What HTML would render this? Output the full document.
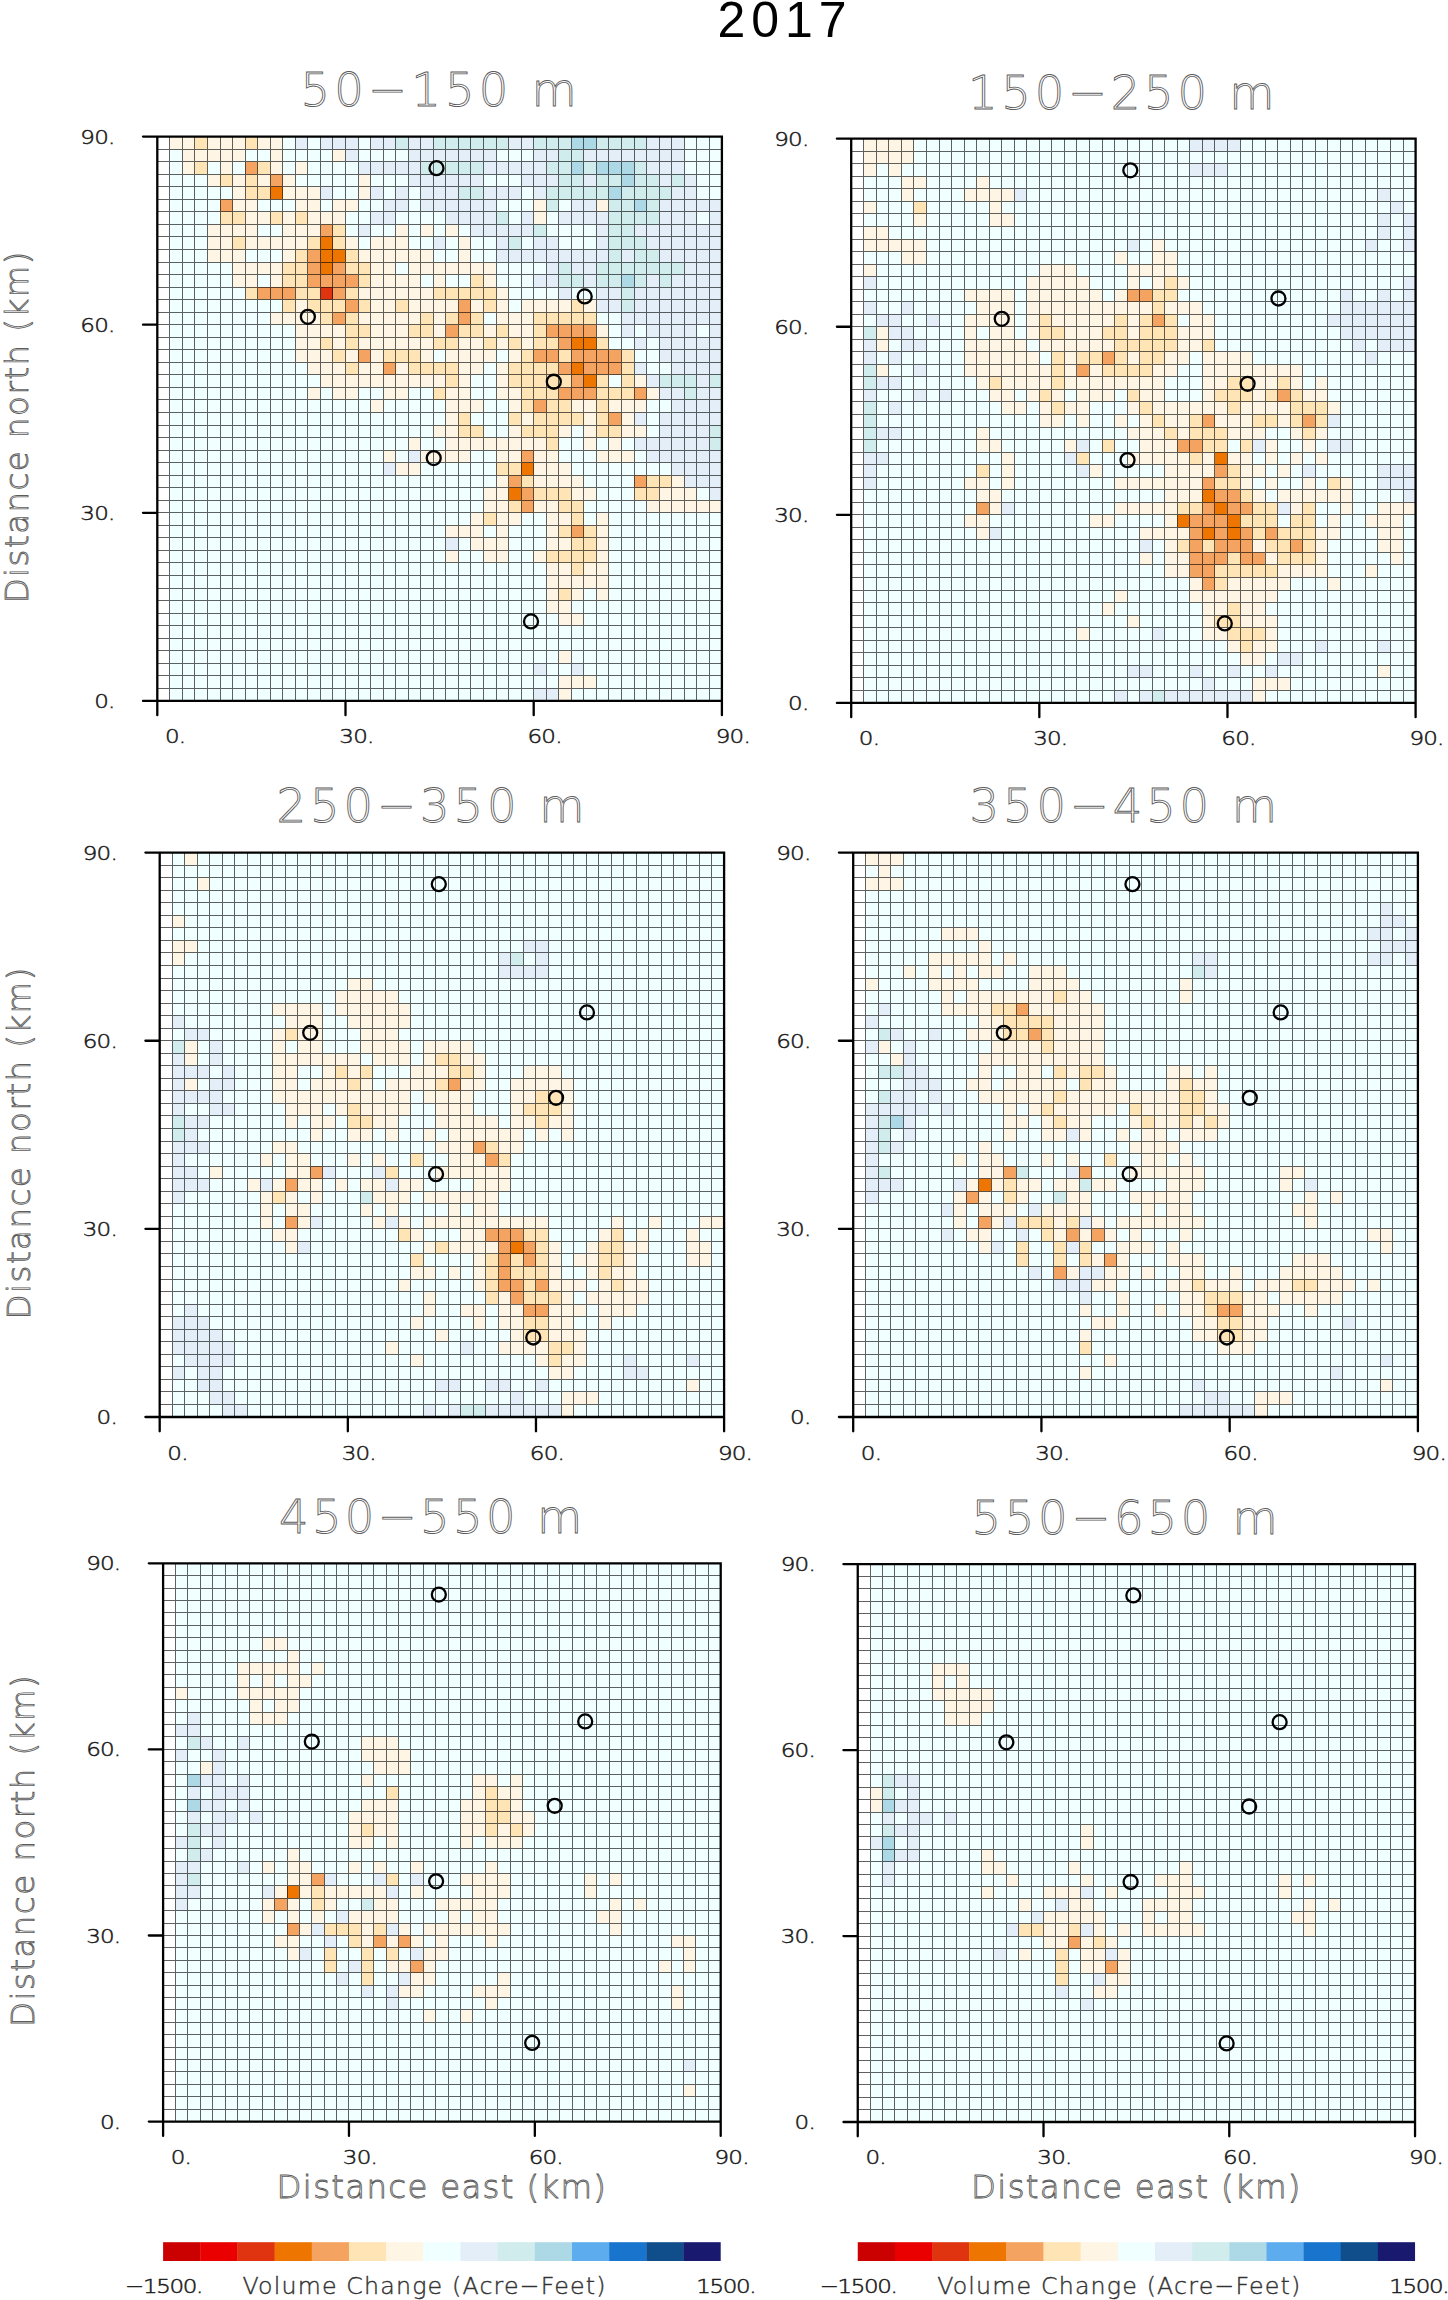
<!DOCTYPE html>
<html lang="en"><head><meta charset="utf-8"><title>2017</title>
<style>
html,body{margin:0;padding:0;background:#fff}
svg{display:block}
text{font-family:"DejaVu Sans","Liberation Sans",sans-serif}
.tk{font-weight:200;font-size:20px;fill:#1a1a1a;stroke:#1a1a1a;stroke-width:0.5px;letter-spacing:-0.7px}
.ti{font-weight:200;font-size:46.5px;fill:#fff;stroke:#5c5c5c;stroke-width:0.9px;letter-spacing:4.2px}
.ax{font-weight:200;font-size:32.4px;fill:#fff;stroke:#5c5c5c;stroke-width:0.9px;letter-spacing:1.5px}
.cb{font-weight:200;font-size:23.7px;fill:#333;stroke:#333;stroke-width:0.4px;letter-spacing:1.18px}
.yr{font-family:"Liberation Sans",sans-serif;font-size:50px;fill:#000;letter-spacing:6px}
</style></head><body>
<svg width="1448" height="2300" viewBox="0 0 1448 2300">
<rect width="1448" height="2300" fill="#fff"/>
<text class="yr" x="785" y="37" text-anchor="middle">2017</text>
<g id="p1">
<rect x="157.3" y="136.6" width="564.6" height="564.3" fill="#f0ffff"/>
<path fill="#ffffff" d="M157.3 136.6h12.55v12.54h-12.55zM157.3 149.14h12.55v12.54h-12.55zM157.3 161.68h12.55v12.54h-12.55zM157.3 174.22h12.55v12.54h-12.55zM157.3 186.76h12.55v12.54h-12.55zM157.3 199.3h12.55v12.54h-12.55zM157.3 211.84h12.55v12.54h-12.55zM157.3 224.38h12.55v12.54h-12.55zM157.3 236.92h12.55v12.54h-12.55zM157.3 249.46h12.55v12.54h-12.55zM157.3 262h12.55v12.54h-12.55zM157.3 274.54h12.55v12.54h-12.55zM157.3 287.08h12.55v12.54h-12.55zM157.3 299.62h12.55v12.54h-12.55zM157.3 312.16h12.55v12.54h-12.55zM157.3 324.7h12.55v12.54h-12.55zM157.3 337.24h12.55v12.54h-12.55zM157.3 349.78h12.55v12.54h-12.55zM157.3 362.32h12.55v12.54h-12.55zM157.3 374.86h12.55v12.54h-12.55zM157.3 387.4h12.55v12.54h-12.55zM157.3 399.94h12.55v12.54h-12.55zM157.3 412.48h12.55v12.54h-12.55zM157.3 425.02h12.55v12.54h-12.55zM157.3 437.56h12.55v12.54h-12.55zM157.3 450.1h12.55v12.54h-12.55zM157.3 462.64h12.55v12.54h-12.55zM157.3 475.18h12.55v12.54h-12.55zM157.3 487.72h12.55v12.54h-12.55zM157.3 500.26h12.55v12.54h-12.55zM157.3 512.8h12.55v12.54h-12.55zM157.3 525.34h12.55v12.54h-12.55zM157.3 537.88h12.55v12.54h-12.55zM157.3 550.42h12.55v12.54h-12.55zM157.3 562.96h12.55v12.54h-12.55zM157.3 575.5h12.55v12.54h-12.55zM157.3 588.04h12.55v12.54h-12.55zM157.3 600.58h12.55v12.54h-12.55zM157.3 613.12h12.55v12.54h-12.55zM157.3 625.66h12.55v12.54h-12.55zM157.3 638.2h12.55v12.54h-12.55zM157.3 650.74h12.55v12.54h-12.55zM157.3 663.28h12.55v12.54h-12.55zM157.3 675.82h12.55v12.54h-12.55zM157.3 688.36h12.55v12.54h-12.55z"/>
<path fill="#fef5e5" d="M169.85 136.6h25.09v12.54h-25.09zM207.49 136.6h37.64v12.54h-37.64zM257.67 136.6h25.09v12.54h-25.09zM182.39 149.14h62.73v12.54h-62.73zM270.22 149.14h12.55v12.54h-12.55zM332.95 149.14h12.55v12.54h-12.55zM182.39 161.68h12.55v12.54h-12.55zM220.03 161.68h12.55v12.54h-12.55zM270.22 161.68h12.55v12.54h-12.55zM295.31 161.68h12.55v12.54h-12.55zM207.49 174.22h12.55v12.54h-12.55zM232.58 174.22h12.55v12.54h-12.55zM257.67 174.22h12.55v12.54h-12.55zM282.77 174.22h12.55v12.54h-12.55zM358.05 174.22h12.55v12.54h-12.55zM232.58 186.76h12.55v12.54h-12.55zM282.77 186.76h37.64v12.54h-37.64zM358.05 186.76h12.55v12.54h-12.55zM232.58 199.3h25.09v12.54h-25.09zM295.31 199.3h25.09v12.54h-25.09zM332.95 199.3h25.09v12.54h-25.09zM533.7 199.3h12.55v12.54h-12.55zM596.43 199.3h12.55v12.54h-12.55zM245.13 211.84h25.09v12.54h-25.09zM282.77 211.84h12.55v12.54h-12.55zM307.86 211.84h37.64v12.54h-37.64zM533.7 211.84h12.55v12.54h-12.55zM207.49 224.38h50.19v12.54h-50.19zM282.77 224.38h37.64v12.54h-37.64zM395.69 224.38h12.55v12.54h-12.55zM420.78 224.38h12.55v12.54h-12.55zM445.87 224.38h12.55v12.54h-12.55zM207.49 236.92h25.09v12.54h-25.09zM245.13 236.92h62.73v12.54h-62.73zM345.5 236.92h12.55v12.54h-12.55zM370.59 236.92h37.64v12.54h-37.64zM458.42 236.92h12.55v12.54h-12.55zM207.49 249.46h37.64v12.54h-37.64zM282.77 249.46h12.55v12.54h-12.55zM358.05 249.46h75.28v12.54h-75.28zM458.42 249.46h12.55v12.54h-12.55zM232.58 262h50.19v12.54h-50.19zM370.59 262h25.09v12.54h-25.09zM408.23 262h87.83v12.54h-87.83zM232.58 274.54h25.09v12.54h-25.09zM270.22 274.54h12.55v12.54h-12.55zM370.59 274.54h50.19v12.54h-50.19zM433.33 274.54h12.55v12.54h-12.55zM483.51 274.54h12.55v12.54h-12.55zM358.05 287.08h75.28v12.54h-75.28zM496.06 287.08h12.55v12.54h-12.55zM295.31 299.62h12.55v12.54h-12.55zM370.59 299.62h25.09v12.54h-25.09zM408.23 299.62h50.19v12.54h-50.19zM470.97 299.62h12.55v12.54h-12.55zM496.06 299.62h12.55v12.54h-12.55zM521.15 299.62h50.19v12.54h-50.19zM583.89 299.62h12.55v12.54h-12.55zM270.22 312.16h50.19v12.54h-50.19zM358.05 312.16h62.73v12.54h-62.73zM433.33 312.16h12.55v12.54h-12.55zM496.06 312.16h37.64v12.54h-37.64zM295.31 324.7h50.19v12.54h-50.19zM370.59 324.7h37.64v12.54h-37.64zM433.33 324.7h12.55v12.54h-12.55zM483.51 324.7h12.55v12.54h-12.55zM508.61 324.7h25.09v12.54h-25.09zM596.43 324.7h12.55v12.54h-12.55zM295.31 337.24h25.09v12.54h-25.09zM332.95 337.24h12.55v12.54h-12.55zM358.05 337.24h75.28v12.54h-75.28zM458.42 337.24h25.09v12.54h-25.09zM496.06 337.24h12.55v12.54h-12.55zM521.15 337.24h12.55v12.54h-12.55zM295.31 349.78h37.64v12.54h-37.64zM345.5 349.78h12.55v12.54h-12.55zM370.59 349.78h12.55v12.54h-12.55zM420.78 349.78h12.55v12.54h-12.55zM445.87 349.78h50.19v12.54h-50.19zM508.61 349.78h12.55v12.54h-12.55zM307.86 362.32h37.64v12.54h-37.64zM358.05 362.32h25.09v12.54h-25.09zM395.69 362.32h12.55v12.54h-12.55zM458.42 362.32h25.09v12.54h-25.09zM496.06 362.32h12.55v12.54h-12.55zM320.41 374.86h125.47v12.54h-125.47zM458.42 374.86h12.55v12.54h-12.55zM496.06 374.86h12.55v12.54h-12.55zM634.07 374.86h12.55v12.54h-12.55zM307.86 387.4h12.55v12.54h-12.55zM332.95 387.4h25.09v12.54h-25.09zM383.14 387.4h25.09v12.54h-25.09zM445.87 387.4h25.09v12.54h-25.09zM496.06 387.4h25.09v12.54h-25.09zM646.62 387.4h12.55v12.54h-12.55zM370.59 399.94h12.55v12.54h-12.55zM445.87 399.94h37.64v12.54h-37.64zM508.61 399.94h12.55v12.54h-12.55zM571.34 399.94h25.09v12.54h-25.09zM608.98 399.94h37.64v12.54h-37.64zM445.87 412.48h12.55v12.54h-12.55zM521.15 412.48h12.55v12.54h-12.55zM583.89 412.48h12.55v12.54h-12.55zM621.53 412.48h12.55v12.54h-12.55zM433.33 425.02h25.09v12.54h-25.09zM508.61 425.02h12.55v12.54h-12.55zM558.79 425.02h12.55v12.54h-12.55zM583.89 425.02h12.55v12.54h-12.55zM621.53 425.02h25.09v12.54h-25.09zM408.23 437.56h12.55v12.54h-12.55zM445.87 437.56h100.37v12.54h-100.37zM583.89 437.56h12.55v12.54h-12.55zM608.98 437.56h12.55v12.54h-12.55zM383.14 450.1h12.55v12.54h-12.55zM420.78 450.1h50.19v12.54h-50.19zM496.06 450.1h25.09v12.54h-25.09zM533.7 450.1h25.09v12.54h-25.09zM596.43 450.1h37.64v12.54h-37.64zM395.69 462.64h25.09v12.54h-25.09zM533.7 462.64h37.64v12.54h-37.64zM496.06 475.18h12.55v12.54h-12.55zM533.7 475.18h50.19v12.54h-50.19zM671.71 475.18h12.55v12.54h-12.55zM483.51 487.72h25.09v12.54h-25.09zM571.34 487.72h25.09v12.54h-25.09zM659.17 487.72h37.64v12.54h-37.64zM483.51 500.26h25.09v12.54h-25.09zM533.7 500.26h25.09v12.54h-25.09zM646.62 500.26h75.28v12.54h-75.28zM470.97 512.8h12.55v12.54h-12.55zM496.06 512.8h25.09v12.54h-25.09zM546.25 512.8h25.09v12.54h-25.09zM596.43 512.8h12.55v12.54h-12.55zM445.87 525.34h37.64v12.54h-37.64zM496.06 525.34h12.55v12.54h-12.55zM546.25 525.34h12.55v12.54h-12.55zM596.43 525.34h12.55v12.54h-12.55zM470.97 537.88h37.64v12.54h-37.64zM546.25 537.88h25.09v12.54h-25.09zM596.43 537.88h12.55v12.54h-12.55zM445.87 550.42h12.55v12.54h-12.55zM483.51 550.42h25.09v12.54h-25.09zM533.7 550.42h12.55v12.54h-12.55zM596.43 550.42h12.55v12.54h-12.55zM546.25 562.96h25.09v12.54h-25.09zM583.89 562.96h25.09v12.54h-25.09zM546.25 575.5h62.73v12.54h-62.73zM546.25 588.04h12.55v12.54h-12.55zM571.34 588.04h12.55v12.54h-12.55zM596.43 588.04h12.55v12.54h-12.55zM546.25 600.58h25.09v12.54h-25.09zM558.79 613.12h25.09v12.54h-25.09zM558.79 650.74h12.55v12.54h-12.55zM558.79 675.82h37.64v12.54h-37.64zM558.79 688.36h12.55v12.54h-12.55z"/>
<path fill="#ffe4b5" d="M194.94 136.6h12.55v12.54h-12.55zM245.13 136.6h12.55v12.54h-12.55zM194.94 161.68h12.55v12.54h-12.55zM257.67 161.68h12.55v12.54h-12.55zM220.03 174.22h12.55v12.54h-12.55zM245.13 174.22h12.55v12.54h-12.55zM245.13 186.76h25.09v12.54h-25.09zM220.03 211.84h25.09v12.54h-25.09zM270.22 211.84h12.55v12.54h-12.55zM295.31 211.84h12.55v12.54h-12.55zM332.95 224.38h12.55v12.54h-12.55zM232.58 236.92h12.55v12.54h-12.55zM307.86 236.92h12.55v12.54h-12.55zM332.95 236.92h12.55v12.54h-12.55zM295.31 249.46h12.55v12.54h-12.55zM345.5 249.46h12.55v12.54h-12.55zM282.77 262h25.09v12.54h-25.09zM345.5 262h25.09v12.54h-25.09zM282.77 274.54h25.09v12.54h-25.09zM358.05 274.54h12.55v12.54h-12.55zM470.97 274.54h12.55v12.54h-12.55zM245.13 287.08h12.55v12.54h-12.55zM295.31 287.08h25.09v12.54h-25.09zM345.5 287.08h12.55v12.54h-12.55zM433.33 287.08h62.73v12.54h-62.73zM282.77 299.62h12.55v12.54h-12.55zM307.86 299.62h37.64v12.54h-37.64zM358.05 299.62h12.55v12.54h-12.55zM395.69 299.62h12.55v12.54h-12.55zM483.51 299.62h12.55v12.54h-12.55zM571.34 299.62h12.55v12.54h-12.55zM320.41 312.16h12.55v12.54h-12.55zM345.5 312.16h12.55v12.54h-12.55zM420.78 312.16h12.55v12.54h-12.55zM445.87 312.16h12.55v12.54h-12.55zM470.97 312.16h12.55v12.54h-12.55zM533.7 312.16h62.73v12.54h-62.73zM345.5 324.7h25.09v12.54h-25.09zM408.23 324.7h25.09v12.54h-25.09zM458.42 324.7h25.09v12.54h-25.09zM496.06 324.7h12.55v12.54h-12.55zM533.7 324.7h12.55v12.54h-12.55zM320.41 337.24h12.55v12.54h-12.55zM345.5 337.24h12.55v12.54h-12.55zM433.33 337.24h25.09v12.54h-25.09zM483.51 337.24h12.55v12.54h-12.55zM508.61 337.24h12.55v12.54h-12.55zM533.7 337.24h25.09v12.54h-25.09zM596.43 337.24h12.55v12.54h-12.55zM332.95 349.78h12.55v12.54h-12.55zM383.14 349.78h37.64v12.54h-37.64zM521.15 349.78h12.55v12.54h-12.55zM558.79 349.78h12.55v12.54h-12.55zM621.53 349.78h12.55v12.54h-12.55zM345.5 362.32h12.55v12.54h-12.55zM408.23 362.32h50.19v12.54h-50.19zM508.61 362.32h50.19v12.54h-50.19zM621.53 362.32h12.55v12.54h-12.55zM445.87 374.86h12.55v12.54h-12.55zM508.61 374.86h62.73v12.54h-62.73zM596.43 374.86h12.55v12.54h-12.55zM621.53 374.86h12.55v12.54h-12.55zM433.33 387.4h12.55v12.54h-12.55zM521.15 387.4h37.64v12.54h-37.64zM596.43 387.4h37.64v12.54h-37.64zM521.15 399.94h12.55v12.54h-12.55zM546.25 399.94h25.09v12.54h-25.09zM596.43 399.94h12.55v12.54h-12.55zM458.42 412.48h12.55v12.54h-12.55zM508.61 412.48h12.55v12.54h-12.55zM533.7 412.48h50.19v12.54h-50.19zM596.43 412.48h12.55v12.54h-12.55zM458.42 425.02h25.09v12.54h-25.09zM521.15 425.02h37.64v12.54h-37.64zM596.43 425.02h25.09v12.54h-25.09zM546.25 437.56h12.55v12.54h-12.55zM496.06 462.64h25.09v12.54h-25.09zM521.15 475.18h12.55v12.54h-12.55zM646.62 475.18h25.09v12.54h-25.09zM533.7 487.72h37.64v12.54h-37.64zM634.07 487.72h25.09v12.54h-25.09zM508.61 500.26h12.55v12.54h-12.55zM558.79 500.26h25.09v12.54h-25.09zM483.51 512.8h12.55v12.54h-12.55zM571.34 512.8h12.55v12.54h-12.55zM558.79 525.34h12.55v12.54h-12.55zM583.89 525.34h12.55v12.54h-12.55zM571.34 537.88h25.09v12.54h-25.09zM546.25 550.42h50.19v12.54h-50.19zM571.34 562.96h12.55v12.54h-12.55zM558.79 588.04h12.55v12.54h-12.55z"/>
<path fill="#e3eef9" d="M295.31 136.6h12.55v12.54h-12.55zM320.41 136.6h37.64v12.54h-37.64zM370.59 136.6h25.09v12.54h-25.09zM408.23 136.6h25.09v12.54h-25.09zM508.61 136.6h25.09v12.54h-25.09zM646.62 136.6h37.64v12.54h-37.64zM345.5 149.14h12.55v12.54h-12.55zM408.23 149.14h87.83v12.54h-87.83zM533.7 149.14h25.09v12.54h-25.09zM583.89 149.14h100.37v12.54h-100.37zM358.05 161.68h62.73v12.54h-62.73zM483.51 161.68h62.73v12.54h-62.73zM646.62 161.68h37.64v12.54h-37.64zM408.23 174.22h75.28v12.54h-75.28zM521.15 174.22h37.64v12.54h-37.64zM583.89 174.22h12.55v12.54h-12.55zM659.17 174.22h12.55v12.54h-12.55zM684.26 174.22h12.55v12.54h-12.55zM320.41 186.76h12.55v12.54h-12.55zM370.59 186.76h12.55v12.54h-12.55zM395.69 186.76h12.55v12.54h-12.55zM420.78 186.76h37.64v12.54h-37.64zM483.51 186.76h37.64v12.54h-37.64zM533.7 186.76h12.55v12.54h-12.55zM671.71 186.76h25.09v12.54h-25.09zM383.14 199.3h25.09v12.54h-25.09zM420.78 199.3h75.28v12.54h-75.28zM571.34 199.3h25.09v12.54h-25.09zM659.17 199.3h62.73v12.54h-62.73zM370.59 211.84h25.09v12.54h-25.09zM445.87 211.84h50.19v12.54h-50.19zM521.15 211.84h12.55v12.54h-12.55zM558.79 211.84h50.19v12.54h-50.19zM659.17 211.84h37.64v12.54h-37.64zM709.35 211.84h12.55v12.54h-12.55zM358.05 224.38h12.55v12.54h-12.55zM470.97 224.38h62.73v12.54h-62.73zM596.43 224.38h12.55v12.54h-12.55zM634.07 224.38h87.83v12.54h-87.83zM433.33 236.92h12.55v12.54h-12.55zM496.06 236.92h12.55v12.54h-12.55zM533.7 236.92h25.09v12.54h-25.09zM596.43 236.92h12.55v12.54h-12.55zM646.62 236.92h75.28v12.54h-75.28zM496.06 249.46h112.92v12.54h-112.92zM621.53 249.46h12.55v12.54h-12.55zM659.17 249.46h62.73v12.54h-62.73zM546.25 262h12.55v12.54h-12.55zM571.34 262h25.09v12.54h-25.09zM684.26 262h37.64v12.54h-37.64zM533.7 274.54h25.09v12.54h-25.09zM583.89 274.54h12.55v12.54h-12.55zM646.62 274.54h12.55v12.54h-12.55zM671.71 274.54h50.19v12.54h-50.19zM558.79 287.08h12.55v12.54h-12.55zM596.43 287.08h25.09v12.54h-25.09zM634.07 287.08h87.83v12.54h-87.83zM596.43 299.62h25.09v12.54h-25.09zM634.07 299.62h87.83v12.54h-87.83zM621.53 312.16h100.37v12.54h-100.37zM621.53 324.7h12.55v12.54h-12.55zM646.62 324.7h50.19v12.54h-50.19zM709.35 324.7h12.55v12.54h-12.55zM634.07 337.24h12.55v12.54h-12.55zM659.17 337.24h62.73v12.54h-62.73zM659.17 349.78h62.73v12.54h-62.73zM634.07 362.32h12.55v12.54h-12.55zM671.71 362.32h50.19v12.54h-50.19zM646.62 374.86h12.55v12.54h-12.55zM696.81 374.86h12.55v12.54h-12.55zM659.17 387.4h25.09v12.54h-25.09zM696.81 387.4h25.09v12.54h-25.09zM671.71 399.94h50.19v12.54h-50.19zM634.07 412.48h12.55v12.54h-12.55zM659.17 412.48h62.73v12.54h-62.73zM659.17 425.02h50.19v12.54h-50.19zM634.07 437.56h75.28v12.54h-75.28zM408.23 450.1h12.55v12.54h-12.55zM646.62 450.1h75.28v12.54h-75.28zM383.14 462.64h12.55v12.54h-12.55zM671.71 462.64h50.19v12.54h-50.19zM684.26 475.18h37.64v12.54h-37.64zM709.35 487.72h12.55v12.54h-12.55zM445.87 537.88h12.55v12.54h-12.55zM533.7 663.28h12.55v12.54h-12.55zM571.34 663.28h12.55v12.54h-12.55zM533.7 688.36h25.09v12.54h-25.09z"/>
<path fill="#d0ecec" d="M395.69 136.6h12.55v12.54h-12.55zM433.33 136.6h75.28v12.54h-75.28zM533.7 136.6h37.64v12.54h-37.64zM596.43 136.6h50.19v12.54h-50.19zM558.79 149.14h25.09v12.54h-25.09zM420.78 161.68h62.73v12.54h-62.73zM546.25 161.68h25.09v12.54h-25.09zM583.89 161.68h12.55v12.54h-12.55zM634.07 161.68h12.55v12.54h-12.55zM558.79 174.22h25.09v12.54h-25.09zM596.43 174.22h25.09v12.54h-25.09zM634.07 174.22h25.09v12.54h-25.09zM671.71 174.22h12.55v12.54h-12.55zM458.42 186.76h25.09v12.54h-25.09zM546.25 186.76h62.73v12.54h-62.73zM621.53 186.76h50.19v12.54h-50.19zM546.25 199.3h12.55v12.54h-12.55zM608.98 199.3h25.09v12.54h-25.09zM646.62 199.3h12.55v12.54h-12.55zM496.06 211.84h12.55v12.54h-12.55zM608.98 211.84h50.19v12.54h-50.19zM533.7 224.38h12.55v12.54h-12.55zM608.98 224.38h25.09v12.54h-25.09zM508.61 236.92h12.55v12.54h-12.55zM608.98 236.92h37.64v12.54h-37.64zM608.98 249.46h12.55v12.54h-12.55zM634.07 249.46h25.09v12.54h-25.09zM558.79 262h12.55v12.54h-12.55zM596.43 262h87.83v12.54h-87.83zM558.79 274.54h25.09v12.54h-25.09zM596.43 274.54h25.09v12.54h-25.09zM634.07 274.54h12.55v12.54h-12.55zM659.17 274.54h12.55v12.54h-12.55zM621.53 287.08h12.55v12.54h-12.55zM621.53 299.62h12.55v12.54h-12.55zM659.17 374.86h37.64v12.54h-37.64zM709.35 374.86h12.55v12.54h-12.55zM684.26 387.4h12.55v12.54h-12.55zM709.35 425.02h12.55v12.54h-12.55zM709.35 437.56h12.55v12.54h-12.55z"/>
<path fill="#add8e6" d="M571.34 136.6h25.09v12.54h-25.09zM571.34 161.68h12.55v12.54h-12.55zM596.43 161.68h37.64v12.54h-37.64zM621.53 174.22h12.55v12.54h-12.55zM608.98 186.76h12.55v12.54h-12.55zM634.07 199.3h12.55v12.54h-12.55zM621.53 274.54h12.55v12.54h-12.55z"/>
<path fill="#f4a460" d="M245.13 161.68h12.55v12.54h-12.55zM270.22 174.22h12.55v12.54h-12.55zM220.03 199.3h12.55v12.54h-12.55zM320.41 224.38h12.55v12.54h-12.55zM307.86 249.46h12.55v12.54h-12.55zM307.86 262h12.55v12.54h-12.55zM332.95 262h12.55v12.54h-12.55zM307.86 274.54h50.19v12.54h-50.19zM257.67 287.08h37.64v12.54h-37.64zM332.95 287.08h12.55v12.54h-12.55zM345.5 299.62h12.55v12.54h-12.55zM458.42 299.62h12.55v12.54h-12.55zM332.95 312.16h12.55v12.54h-12.55zM458.42 312.16h12.55v12.54h-12.55zM445.87 324.7h12.55v12.54h-12.55zM546.25 324.7h50.19v12.54h-50.19zM558.79 337.24h12.55v12.54h-12.55zM358.05 349.78h12.55v12.54h-12.55zM533.7 349.78h25.09v12.54h-25.09zM571.34 349.78h50.19v12.54h-50.19zM383.14 362.32h12.55v12.54h-12.55zM558.79 362.32h12.55v12.54h-12.55zM583.89 362.32h37.64v12.54h-37.64zM571.34 374.86h12.55v12.54h-12.55zM558.79 387.4h37.64v12.54h-37.64zM634.07 387.4h12.55v12.54h-12.55zM533.7 399.94h12.55v12.54h-12.55zM608.98 412.48h12.55v12.54h-12.55zM521.15 450.1h12.55v12.54h-12.55zM508.61 475.18h12.55v12.54h-12.55zM634.07 475.18h12.55v12.54h-12.55zM521.15 487.72h12.55v12.54h-12.55zM521.15 500.26h12.55v12.54h-12.55zM571.34 525.34h12.55v12.54h-12.55z"/>
<path fill="#ee7600" d="M270.22 186.76h12.55v12.54h-12.55zM320.41 236.92h12.55v12.54h-12.55zM320.41 249.46h25.09v12.54h-25.09zM320.41 262h12.55v12.54h-12.55zM571.34 337.24h25.09v12.54h-25.09zM571.34 362.32h12.55v12.54h-12.55zM583.89 374.86h12.55v12.54h-12.55zM521.15 462.64h12.55v12.54h-12.55zM508.61 487.72h12.55v12.54h-12.55z"/>
<path fill="#e0330f" d="M320.41 287.08h12.55v12.54h-12.55z"/>
<path fill="none" shape-rendering="crispEdges" stroke="#000" stroke-opacity="0.62" stroke-width="1" d="M169.85 136.6v564.3M157.3 149.14h564.6M182.39 136.6v564.3M157.3 161.68h564.6M194.94 136.6v564.3M157.3 174.22h564.6M207.49 136.6v564.3M157.3 186.76h564.6M220.03 136.6v564.3M157.3 199.3h564.6M232.58 136.6v564.3M157.3 211.84h564.6M245.13 136.6v564.3M157.3 224.38h564.6M257.67 136.6v564.3M157.3 236.92h564.6M270.22 136.6v564.3M157.3 249.46h564.6M282.77 136.6v564.3M157.3 262h564.6M295.31 136.6v564.3M157.3 274.54h564.6M307.86 136.6v564.3M157.3 287.08h564.6M320.41 136.6v564.3M157.3 299.62h564.6M332.95 136.6v564.3M157.3 312.16h564.6M345.5 136.6v564.3M157.3 324.7h564.6M358.05 136.6v564.3M157.3 337.24h564.6M370.59 136.6v564.3M157.3 349.78h564.6M383.14 136.6v564.3M157.3 362.32h564.6M395.69 136.6v564.3M157.3 374.86h564.6M408.23 136.6v564.3M157.3 387.4h564.6M420.78 136.6v564.3M157.3 399.94h564.6M433.33 136.6v564.3M157.3 412.48h564.6M445.87 136.6v564.3M157.3 425.02h564.6M458.42 136.6v564.3M157.3 437.56h564.6M470.97 136.6v564.3M157.3 450.1h564.6M483.51 136.6v564.3M157.3 462.64h564.6M496.06 136.6v564.3M157.3 475.18h564.6M508.61 136.6v564.3M157.3 487.72h564.6M521.15 136.6v564.3M157.3 500.26h564.6M533.7 136.6v564.3M157.3 512.8h564.6M546.25 136.6v564.3M157.3 525.34h564.6M558.79 136.6v564.3M157.3 537.88h564.6M571.34 136.6v564.3M157.3 550.42h564.6M583.89 136.6v564.3M157.3 562.96h564.6M596.43 136.6v564.3M157.3 575.5h564.6M608.98 136.6v564.3M157.3 588.04h564.6M621.53 136.6v564.3M157.3 600.58h564.6M634.07 136.6v564.3M157.3 613.12h564.6M646.62 136.6v564.3M157.3 625.66h564.6M659.17 136.6v564.3M157.3 638.2h564.6M671.71 136.6v564.3M157.3 650.74h564.6M684.26 136.6v564.3M157.3 663.28h564.6M696.81 136.6v564.3M157.3 675.82h564.6M709.35 136.6v564.3M157.3 688.36h564.6"/>
<path fill="none" stroke="#000" stroke-width="2.3" stroke-linecap="round" d="M157.3 136.6h564.6v564.3h-564.6zM157.3 700.9h-14.3M157.3 700.9v14.3M157.3 512.8h-14.3M345.5 700.9v14.3M157.3 324.7h-14.3M533.7 700.9v14.3M157.3 136.6h-14.3M721.9 700.9v14.3"/>
<circle cx="436.49" cy="168.2" r="7" fill="none" stroke="#000" stroke-width="2.3"/>
<circle cx="584.7" cy="296.41" r="7" fill="none" stroke="#000" stroke-width="2.3"/>
<circle cx="307.88" cy="316.78" r="7" fill="none" stroke="#000" stroke-width="2.3"/>
<circle cx="553.82" cy="381.73" r="7" fill="none" stroke="#000" stroke-width="2.3"/>
<circle cx="433.73" cy="458.08" r="7" fill="none" stroke="#000" stroke-width="2.3"/>
<circle cx="531.01" cy="621.39" r="7" fill="none" stroke="#000" stroke-width="2.3"/>
<text class="tk" transform="translate(114.5 707.9) scale(1.15 1)" text-anchor="end">0.</text>
<text class="tk" transform="translate(185.3 743.4) scale(1.15 1)" text-anchor="end">0.</text>
<text class="tk" transform="translate(114.5 519.8) scale(1.15 1)" text-anchor="end">30.</text>
<text class="tk" transform="translate(373.5 743.4) scale(1.15 1)" text-anchor="end">30.</text>
<text class="tk" transform="translate(114.5 331.7) scale(1.15 1)" text-anchor="end">60.</text>
<text class="tk" transform="translate(561.7 743.4) scale(1.15 1)" text-anchor="end">60.</text>
<text class="tk" transform="translate(114.5 143.6) scale(1.15 1)" text-anchor="end">90.</text>
<text class="tk" transform="translate(749.9 743.4) scale(1.15 1)" text-anchor="end">90.</text>
<text class="ti" style="letter-spacing:4.2px" x="300.5" y="106.4">50−150 m</text>
<text class="ax" transform="translate(28 426.75) rotate(-90)" text-anchor="middle">Distance north (km)</text>
</g>
<g id="p2">
<rect x="851.2" y="138.7" width="564.4" height="564.2" fill="#f0ffff"/>
<path fill="#ffffff" d="M851.2 138.7h12.54v12.54h-12.54zM851.2 151.24h12.54v12.54h-12.54zM851.2 163.78h12.54v12.54h-12.54zM851.2 176.31h12.54v12.54h-12.54zM851.2 188.85h12.54v12.54h-12.54zM851.2 201.39h12.54v12.54h-12.54zM851.2 213.93h12.54v12.54h-12.54zM851.2 226.46h12.54v12.54h-12.54zM851.2 239h12.54v12.54h-12.54zM851.2 251.54h12.54v12.54h-12.54zM851.2 264.08h12.54v12.54h-12.54zM851.2 276.62h12.54v12.54h-12.54zM851.2 289.15h12.54v12.54h-12.54zM851.2 301.69h12.54v12.54h-12.54zM851.2 314.23h12.54v12.54h-12.54zM851.2 326.77h12.54v12.54h-12.54zM851.2 339.3h12.54v12.54h-12.54zM851.2 351.84h12.54v12.54h-12.54zM851.2 364.38h12.54v12.54h-12.54zM851.2 376.92h12.54v12.54h-12.54zM851.2 389.46h12.54v12.54h-12.54zM851.2 401.99h12.54v12.54h-12.54zM851.2 414.53h12.54v12.54h-12.54zM851.2 427.07h12.54v12.54h-12.54zM851.2 439.61h12.54v12.54h-12.54zM851.2 452.14h12.54v12.54h-12.54zM851.2 464.68h12.54v12.54h-12.54zM851.2 477.22h12.54v12.54h-12.54zM851.2 489.76h12.54v12.54h-12.54zM851.2 502.3h12.54v12.54h-12.54zM851.2 514.83h12.54v12.54h-12.54zM851.2 527.37h12.54v12.54h-12.54zM851.2 539.91h12.54v12.54h-12.54zM851.2 552.45h12.54v12.54h-12.54zM851.2 564.98h12.54v12.54h-12.54zM851.2 577.52h12.54v12.54h-12.54zM851.2 590.06h12.54v12.54h-12.54zM851.2 602.6h12.54v12.54h-12.54zM851.2 615.14h12.54v12.54h-12.54zM851.2 627.67h12.54v12.54h-12.54zM851.2 640.21h12.54v12.54h-12.54zM851.2 652.75h12.54v12.54h-12.54zM851.2 665.29h12.54v12.54h-12.54zM851.2 677.82h12.54v12.54h-12.54zM851.2 690.36h12.54v12.54h-12.54z"/>
<path fill="#fef5e5" d="M863.74 138.7h50.17v12.54h-50.17zM863.74 151.24h50.17v12.54h-50.17zM863.74 163.78h12.54v12.54h-12.54zM888.83 163.78h12.54v12.54h-12.54zM901.37 176.31h25.08v12.54h-25.08zM976.62 176.31h12.54v12.54h-12.54zM901.37 188.85h12.54v12.54h-12.54zM964.08 188.85h50.17v12.54h-50.17zM863.74 201.39h12.54v12.54h-12.54zM989.16 201.39h12.54v12.54h-12.54zM913.91 213.93h12.54v12.54h-12.54zM989.16 213.93h25.08v12.54h-25.08zM863.74 226.46h25.08v12.54h-25.08zM863.74 239h62.71v12.54h-62.71zM1152.21 239h12.54v12.54h-12.54zM901.37 251.54h25.08v12.54h-25.08zM1114.59 251.54h12.54v12.54h-12.54zM1152.21 251.54h25.08v12.54h-25.08zM863.74 264.08h12.54v12.54h-12.54zM1039.33 264.08h37.63v12.54h-37.63zM1127.13 264.08h50.17v12.54h-50.17zM1026.79 276.62h62.71v12.54h-62.71zM1127.13 276.62h12.54v12.54h-12.54zM1152.21 276.62h12.54v12.54h-12.54zM1177.3 276.62h12.54v12.54h-12.54zM964.08 289.15h50.17v12.54h-50.17zM1026.79 289.15h75.25v12.54h-75.25zM1114.59 289.15h12.54v12.54h-12.54zM976.62 301.69h37.63v12.54h-37.63zM1026.79 301.69h125.42v12.54h-125.42zM1164.76 301.69h37.63v12.54h-37.63zM964.08 314.23h50.17v12.54h-50.17zM1026.79 314.23h12.54v12.54h-12.54zM1051.88 314.23h62.71v12.54h-62.71zM1127.13 314.23h12.54v12.54h-12.54zM1189.84 314.23h25.08v12.54h-25.08zM876.28 326.77h12.54v12.54h-12.54zM964.08 326.77h12.54v12.54h-12.54zM989.16 326.77h25.08v12.54h-25.08zM1026.79 326.77h12.54v12.54h-12.54zM1064.42 326.77h37.63v12.54h-37.63zM1127.13 326.77h12.54v12.54h-12.54zM1177.3 326.77h37.63v12.54h-37.63zM876.28 339.3h12.54v12.54h-12.54zM964.08 339.3h62.71v12.54h-62.71zM1039.33 339.3h75.25v12.54h-75.25zM1177.3 339.3h25.08v12.54h-25.08zM964.08 351.84h75.25v12.54h-75.25zM1064.42 351.84h12.54v12.54h-12.54zM1127.13 351.84h12.54v12.54h-12.54zM1164.76 351.84h25.08v12.54h-25.08zM1202.38 351.84h50.17v12.54h-50.17zM876.28 364.38h12.54v12.54h-12.54zM964.08 364.38h87.8v12.54h-87.8zM1064.42 364.38h12.54v12.54h-12.54zM1089.5 364.38h12.54v12.54h-12.54zM1152.21 364.38h25.08v12.54h-25.08zM1202.38 364.38h100.34v12.54h-100.34zM976.62 376.92h12.54v12.54h-12.54zM1001.71 376.92h50.17v12.54h-50.17zM1064.42 376.92h100.34v12.54h-100.34zM1202.38 376.92h25.08v12.54h-25.08zM1252.55 376.92h25.08v12.54h-25.08zM1290.18 376.92h12.54v12.54h-12.54zM1315.26 376.92h12.54v12.54h-12.54zM989.16 389.46h25.08v12.54h-25.08zM1026.79 389.46h12.54v12.54h-12.54zM1051.88 389.46h12.54v12.54h-12.54zM1076.96 389.46h37.63v12.54h-37.63zM1139.67 389.46h25.08v12.54h-25.08zM1202.38 389.46h12.54v12.54h-12.54zM1252.55 389.46h12.54v12.54h-12.54zM1302.72 389.46h25.08v12.54h-25.08zM1001.71 401.99h25.08v12.54h-25.08zM1039.33 401.99h12.54v12.54h-12.54zM1064.42 401.99h25.08v12.54h-25.08zM1127.13 401.99h12.54v12.54h-12.54zM1152.21 401.99h75.25v12.54h-75.25zM1240.01 401.99h50.17v12.54h-50.17zM1327.8 401.99h12.54v12.54h-12.54zM1039.33 414.53h25.08v12.54h-25.08zM1076.96 414.53h12.54v12.54h-12.54zM1114.59 414.53h12.54v12.54h-12.54zM1139.67 414.53h12.54v12.54h-12.54zM1164.76 414.53h25.08v12.54h-25.08zM1214.92 414.53h37.63v12.54h-37.63zM1277.64 414.53h12.54v12.54h-12.54zM976.62 427.07h12.54v12.54h-12.54zM1127.13 427.07h37.63v12.54h-37.63zM1177.3 427.07h12.54v12.54h-12.54zM1227.47 427.07h37.63v12.54h-37.63zM1290.18 427.07h12.54v12.54h-12.54zM1315.26 427.07h12.54v12.54h-12.54zM976.62 439.61h25.08v12.54h-25.08zM1064.42 439.61h12.54v12.54h-12.54zM1139.67 439.61h37.63v12.54h-37.63zM1265.09 439.61h12.54v12.54h-12.54zM1302.72 439.61h12.54v12.54h-12.54zM1001.71 452.14h12.54v12.54h-12.54zM1127.13 452.14h62.71v12.54h-62.71zM1202.38 452.14h12.54v12.54h-12.54zM1227.47 452.14h25.08v12.54h-25.08zM1265.09 452.14h12.54v12.54h-12.54zM1290.18 452.14h12.54v12.54h-12.54zM1315.26 452.14h12.54v12.54h-12.54zM1001.71 464.68h12.54v12.54h-12.54zM1089.5 464.68h12.54v12.54h-12.54zM1164.76 464.68h50.17v12.54h-50.17zM1240.01 464.68h25.08v12.54h-25.08zM1277.64 464.68h12.54v12.54h-12.54zM964.08 477.22h25.08v12.54h-25.08zM1001.71 477.22h12.54v12.54h-12.54zM1114.59 477.22h87.8v12.54h-87.8zM1240.01 477.22h12.54v12.54h-12.54zM1265.09 477.22h12.54v12.54h-12.54zM1302.72 477.22h12.54v12.54h-12.54zM1340.35 477.22h12.54v12.54h-12.54zM976.62 489.76h25.08v12.54h-25.08zM1164.76 489.76h37.63v12.54h-37.63zM1252.55 489.76h12.54v12.54h-12.54zM1277.64 489.76h75.25v12.54h-75.25zM989.16 502.3h12.54v12.54h-12.54zM1114.59 502.3h62.71v12.54h-62.71zM1290.18 502.3h12.54v12.54h-12.54zM1340.35 502.3h12.54v12.54h-12.54zM1377.97 502.3h37.63v12.54h-37.63zM964.08 514.83h25.08v12.54h-25.08zM1089.5 514.83h25.08v12.54h-25.08zM1164.76 514.83h12.54v12.54h-12.54zM1327.8 514.83h12.54v12.54h-12.54zM1365.43 514.83h37.63v12.54h-37.63zM976.62 527.37h12.54v12.54h-12.54zM1139.67 527.37h50.17v12.54h-50.17zM1315.26 527.37h25.08v12.54h-25.08zM1377.97 527.37h25.08v12.54h-25.08zM1164.76 539.91h12.54v12.54h-12.54zM1252.55 539.91h12.54v12.54h-12.54zM1315.26 539.91h12.54v12.54h-12.54zM1377.97 539.91h25.08v12.54h-25.08zM1139.67 552.45h12.54v12.54h-12.54zM1164.76 552.45h25.08v12.54h-25.08zM1265.09 552.45h12.54v12.54h-12.54zM1315.26 552.45h12.54v12.54h-12.54zM1390.52 552.45h12.54v12.54h-12.54zM1164.76 564.98h25.08v12.54h-25.08zM1277.64 564.98h50.17v12.54h-50.17zM1365.43 564.98h12.54v12.54h-12.54zM1189.84 577.52h12.54v12.54h-12.54zM1227.47 577.52h62.71v12.54h-62.71zM1327.8 577.52h12.54v12.54h-12.54zM1114.59 590.06h12.54v12.54h-12.54zM1189.84 590.06h87.8v12.54h-87.8zM1102.04 602.6h12.54v12.54h-12.54zM1202.38 602.6h25.08v12.54h-25.08zM1240.01 602.6h25.08v12.54h-25.08zM1127.13 615.14h12.54v12.54h-12.54zM1202.38 615.14h12.54v12.54h-12.54zM1240.01 615.14h37.63v12.54h-37.63zM1076.96 627.67h12.54v12.54h-12.54zM1202.38 627.67h25.08v12.54h-25.08zM1265.09 627.67h12.54v12.54h-12.54zM1227.47 640.21h12.54v12.54h-12.54zM1252.55 640.21h25.08v12.54h-25.08zM1240.01 652.75h25.08v12.54h-25.08zM1377.97 665.29h12.54v12.54h-12.54zM1252.55 677.82h37.63v12.54h-37.63zM1252.55 690.36h12.54v12.54h-12.54z"/>
<path fill="#e3eef9" d="M1189.84 138.7h50.17v12.54h-50.17zM1189.84 163.78h37.63v12.54h-37.63zM1014.25 188.85h12.54v12.54h-12.54zM1377.97 188.85h12.54v12.54h-12.54zM1390.52 201.39h12.54v12.54h-12.54zM1377.97 213.93h12.54v12.54h-12.54zM1403.06 213.93h12.54v12.54h-12.54zM1377.97 226.46h12.54v12.54h-12.54zM1403.06 226.46h12.54v12.54h-12.54zM1127.13 239h12.54v12.54h-12.54zM1365.43 239h12.54v12.54h-12.54zM1403.06 239h12.54v12.54h-12.54zM863.74 276.62h12.54v12.54h-12.54zM1403.06 276.62h12.54v12.54h-12.54zM1340.35 289.15h12.54v12.54h-12.54zM1377.97 289.15h12.54v12.54h-12.54zM1403.06 289.15h12.54v12.54h-12.54zM863.74 301.69h12.54v12.54h-12.54zM901.37 301.69h12.54v12.54h-12.54zM1340.35 301.69h75.25v12.54h-75.25zM876.28 314.23h25.08v12.54h-25.08zM926.45 314.23h12.54v12.54h-12.54zM1327.8 314.23h87.8v12.54h-87.8zM888.83 326.77h25.08v12.54h-25.08zM1340.35 326.77h75.25v12.54h-75.25zM863.74 339.3h12.54v12.54h-12.54zM901.37 339.3h25.08v12.54h-25.08zM1352.89 339.3h12.54v12.54h-12.54zM1377.97 339.3h37.63v12.54h-37.63zM863.74 351.84h12.54v12.54h-12.54zM888.83 351.84h12.54v12.54h-12.54zM1365.43 351.84h12.54v12.54h-12.54zM913.91 364.38h12.54v12.54h-12.54zM876.28 376.92h25.08v12.54h-25.08zM863.74 389.46h12.54v12.54h-12.54zM913.91 389.46h12.54v12.54h-12.54zM939 389.46h12.54v12.54h-12.54zM888.83 401.99h12.54v12.54h-12.54zM1327.8 414.53h12.54v12.54h-12.54zM876.28 427.07h25.08v12.54h-25.08zM1076.96 439.61h12.54v12.54h-12.54zM1252.55 439.61h12.54v12.54h-12.54zM1327.8 439.61h25.08v12.54h-25.08zM863.74 452.14h25.08v12.54h-25.08zM1064.42 452.14h12.54v12.54h-12.54zM863.74 464.68h12.54v12.54h-12.54zM1076.96 464.68h12.54v12.54h-12.54zM1302.72 464.68h12.54v12.54h-12.54zM1377.97 464.68h37.63v12.54h-37.63zM863.74 477.22h12.54v12.54h-12.54zM1377.97 477.22h37.63v12.54h-37.63zM1403.06 489.76h12.54v12.54h-12.54zM1001.71 502.3h12.54v12.54h-12.54zM1277.64 502.3h12.54v12.54h-12.54zM989.16 527.37h12.54v12.54h-12.54zM1139.67 539.91h12.54v12.54h-12.54zM1152.21 627.67h12.54v12.54h-12.54zM1315.26 640.21h12.54v12.54h-12.54zM1377.97 640.21h12.54v12.54h-12.54zM1277.64 652.75h25.08v12.54h-25.08zM1127.13 665.29h25.08v12.54h-25.08zM1189.84 665.29h12.54v12.54h-12.54zM1227.47 665.29h12.54v12.54h-12.54zM1265.09 665.29h12.54v12.54h-12.54zM1202.38 677.82h12.54v12.54h-12.54zM1114.59 690.36h12.54v12.54h-12.54zM1139.67 690.36h12.54v12.54h-12.54zM1164.76 690.36h87.8v12.54h-87.8z"/>
<path fill="#ffe4b5" d="M913.91 201.39h12.54v12.54h-12.54zM1164.76 276.62h12.54v12.54h-12.54zM1152.21 289.15h25.08v12.54h-25.08zM1152.21 301.69h12.54v12.54h-12.54zM1039.33 314.23h12.54v12.54h-12.54zM1114.59 314.23h12.54v12.54h-12.54zM1139.67 314.23h12.54v12.54h-12.54zM1164.76 314.23h12.54v12.54h-12.54zM1039.33 326.77h25.08v12.54h-25.08zM1102.04 326.77h25.08v12.54h-25.08zM1139.67 326.77h37.63v12.54h-37.63zM1114.59 339.3h62.71v12.54h-62.71zM1202.38 339.3h12.54v12.54h-12.54zM1051.88 351.84h12.54v12.54h-12.54zM1076.96 351.84h25.08v12.54h-25.08zM1114.59 351.84h12.54v12.54h-12.54zM1139.67 351.84h25.08v12.54h-25.08zM1051.88 364.38h12.54v12.54h-12.54zM1102.04 364.38h50.17v12.54h-50.17zM989.16 376.92h12.54v12.54h-12.54zM1051.88 376.92h12.54v12.54h-12.54zM1227.47 376.92h25.08v12.54h-25.08zM1277.64 376.92h12.54v12.54h-12.54zM1039.33 389.46h12.54v12.54h-12.54zM1127.13 389.46h12.54v12.54h-12.54zM1214.92 389.46h37.63v12.54h-37.63zM1265.09 389.46h12.54v12.54h-12.54zM1290.18 389.46h12.54v12.54h-12.54zM1051.88 401.99h12.54v12.54h-12.54zM1139.67 401.99h12.54v12.54h-12.54zM1227.47 401.99h12.54v12.54h-12.54zM1290.18 401.99h37.63v12.54h-37.63zM1152.21 414.53h12.54v12.54h-12.54zM1189.84 414.53h12.54v12.54h-12.54zM1252.55 414.53h25.08v12.54h-25.08zM1290.18 414.53h12.54v12.54h-12.54zM1315.26 414.53h12.54v12.54h-12.54zM1164.76 427.07h12.54v12.54h-12.54zM1189.84 427.07h37.63v12.54h-37.63zM1302.72 427.07h12.54v12.54h-12.54zM1102.04 439.61h12.54v12.54h-12.54zM1202.38 439.61h25.08v12.54h-25.08zM1240.01 439.61h12.54v12.54h-12.54zM1076.96 452.14h12.54v12.54h-12.54zM1189.84 452.14h12.54v12.54h-12.54zM976.62 464.68h12.54v12.54h-12.54zM1227.47 464.68h12.54v12.54h-12.54zM1214.92 477.22h25.08v12.54h-25.08zM1327.8 477.22h12.54v12.54h-12.54zM1240.01 489.76h12.54v12.54h-12.54zM1177.3 502.3h25.08v12.54h-25.08zM1252.55 502.3h25.08v12.54h-25.08zM1302.72 502.3h12.54v12.54h-12.54zM1240.01 514.83h37.63v12.54h-37.63zM1290.18 514.83h25.08v12.54h-25.08zM1252.55 527.37h12.54v12.54h-12.54zM1277.64 527.37h37.63v12.54h-37.63zM1177.3 539.91h12.54v12.54h-12.54zM1202.38 539.91h12.54v12.54h-12.54zM1265.09 539.91h25.08v12.54h-25.08zM1302.72 539.91h12.54v12.54h-12.54zM1227.47 552.45h12.54v12.54h-12.54zM1277.64 552.45h37.63v12.54h-37.63zM1214.92 564.98h62.71v12.54h-62.71zM1214.92 577.52h12.54v12.54h-12.54zM1227.47 602.6h12.54v12.54h-12.54zM1214.92 615.14h25.08v12.54h-25.08zM1227.47 627.67h37.63v12.54h-37.63zM1240.01 640.21h12.54v12.54h-12.54z"/>
<path fill="#f4a460" d="M1127.13 289.15h25.08v12.54h-25.08zM1152.21 314.23h12.54v12.54h-12.54zM1102.04 351.84h12.54v12.54h-12.54zM1076.96 364.38h12.54v12.54h-12.54zM1277.64 389.46h12.54v12.54h-12.54zM1202.38 414.53h12.54v12.54h-12.54zM1302.72 414.53h12.54v12.54h-12.54zM1177.3 439.61h25.08v12.54h-25.08zM1214.92 464.68h12.54v12.54h-12.54zM1202.38 477.22h12.54v12.54h-12.54zM1214.92 489.76h25.08v12.54h-25.08zM976.62 502.3h12.54v12.54h-12.54zM1202.38 502.3h12.54v12.54h-12.54zM1227.47 502.3h25.08v12.54h-25.08zM1189.84 514.83h37.63v12.54h-37.63zM1189.84 527.37h12.54v12.54h-12.54zM1214.92 527.37h12.54v12.54h-12.54zM1240.01 527.37h12.54v12.54h-12.54zM1265.09 527.37h12.54v12.54h-12.54zM1189.84 539.91h12.54v12.54h-12.54zM1214.92 539.91h37.63v12.54h-37.63zM1290.18 539.91h12.54v12.54h-12.54zM1189.84 552.45h37.63v12.54h-37.63zM1240.01 552.45h25.08v12.54h-25.08zM1189.84 564.98h25.08v12.54h-25.08zM1202.38 577.52h12.54v12.54h-12.54z"/>
<path fill="#d0ecec" d="M863.74 326.77h12.54v12.54h-12.54zM863.74 364.38h12.54v12.54h-12.54zM863.74 376.92h12.54v12.54h-12.54zM863.74 401.99h12.54v12.54h-12.54zM863.74 414.53h12.54v12.54h-12.54zM863.74 427.07h12.54v12.54h-12.54zM863.74 439.61h12.54v12.54h-12.54zM1152.21 690.36h12.54v12.54h-12.54z"/>
<path fill="#ee7600" d="M1214.92 452.14h12.54v12.54h-12.54zM1202.38 489.76h12.54v12.54h-12.54zM1214.92 502.3h12.54v12.54h-12.54zM1177.3 514.83h12.54v12.54h-12.54zM1227.47 514.83h12.54v12.54h-12.54zM1202.38 527.37h12.54v12.54h-12.54zM1227.47 527.37h12.54v12.54h-12.54z"/>
<path fill="none" shape-rendering="crispEdges" stroke="#000" stroke-opacity="0.62" stroke-width="1" d="M863.74 138.7v564.2M851.2 151.24h564.4M876.28 138.7v564.2M851.2 163.78h564.4M888.83 138.7v564.2M851.2 176.31h564.4M901.37 138.7v564.2M851.2 188.85h564.4M913.91 138.7v564.2M851.2 201.39h564.4M926.45 138.7v564.2M851.2 213.93h564.4M939 138.7v564.2M851.2 226.46h564.4M951.54 138.7v564.2M851.2 239h564.4M964.08 138.7v564.2M851.2 251.54h564.4M976.62 138.7v564.2M851.2 264.08h564.4M989.16 138.7v564.2M851.2 276.62h564.4M1001.71 138.7v564.2M851.2 289.15h564.4M1014.25 138.7v564.2M851.2 301.69h564.4M1026.79 138.7v564.2M851.2 314.23h564.4M1039.33 138.7v564.2M851.2 326.77h564.4M1051.88 138.7v564.2M851.2 339.3h564.4M1064.42 138.7v564.2M851.2 351.84h564.4M1076.96 138.7v564.2M851.2 364.38h564.4M1089.5 138.7v564.2M851.2 376.92h564.4M1102.04 138.7v564.2M851.2 389.46h564.4M1114.59 138.7v564.2M851.2 401.99h564.4M1127.13 138.7v564.2M851.2 414.53h564.4M1139.67 138.7v564.2M851.2 427.07h564.4M1152.21 138.7v564.2M851.2 439.61h564.4M1164.76 138.7v564.2M851.2 452.14h564.4M1177.3 138.7v564.2M851.2 464.68h564.4M1189.84 138.7v564.2M851.2 477.22h564.4M1202.38 138.7v564.2M851.2 489.76h564.4M1214.92 138.7v564.2M851.2 502.3h564.4M1227.47 138.7v564.2M851.2 514.83h564.4M1240.01 138.7v564.2M851.2 527.37h564.4M1252.55 138.7v564.2M851.2 539.91h564.4M1265.09 138.7v564.2M851.2 552.45h564.4M1277.64 138.7v564.2M851.2 564.98h564.4M1290.18 138.7v564.2M851.2 577.52h564.4M1302.72 138.7v564.2M851.2 590.06h564.4M1315.26 138.7v564.2M851.2 602.6h564.4M1327.8 138.7v564.2M851.2 615.14h564.4M1340.35 138.7v564.2M851.2 627.67h564.4M1352.89 138.7v564.2M851.2 640.21h564.4M1365.43 138.7v564.2M851.2 652.75h564.4M1377.97 138.7v564.2M851.2 665.29h564.4M1390.52 138.7v564.2M851.2 677.82h564.4M1403.06 138.7v564.2M851.2 690.36h564.4"/>
<path fill="none" stroke="#000" stroke-width="2.3" stroke-linecap="round" d="M851.2 138.7h564.4v564.2h-564.4zM851.2 702.9h-14.3M851.2 702.9v14.3M851.2 514.83h-14.3M1039.33 702.9v14.3M851.2 326.77h-14.3M1227.47 702.9v14.3M851.2 138.7h-14.3M1415.6 702.9v14.3"/>
<circle cx="1130.3" cy="170.3" r="7" fill="none" stroke="#000" stroke-width="2.3"/>
<circle cx="1278.45" cy="298.48" r="7" fill="none" stroke="#000" stroke-width="2.3"/>
<circle cx="1001.73" cy="318.85" r="7" fill="none" stroke="#000" stroke-width="2.3"/>
<circle cx="1247.58" cy="383.79" r="7" fill="none" stroke="#000" stroke-width="2.3"/>
<circle cx="1127.53" cy="460.12" r="7" fill="none" stroke="#000" stroke-width="2.3"/>
<circle cx="1224.78" cy="623.4" r="7" fill="none" stroke="#000" stroke-width="2.3"/>
<text class="tk" transform="translate(808.4 709.9) scale(1.15 1)" text-anchor="end">0.</text>
<text class="tk" transform="translate(879.2 745.39) scale(1.15 1)" text-anchor="end">0.</text>
<text class="tk" transform="translate(808.4 521.83) scale(1.15 1)" text-anchor="end">30.</text>
<text class="tk" transform="translate(1067.33 745.39) scale(1.15 1)" text-anchor="end">30.</text>
<text class="tk" transform="translate(808.4 333.77) scale(1.15 1)" text-anchor="end">60.</text>
<text class="tk" transform="translate(1255.47 745.39) scale(1.15 1)" text-anchor="end">60.</text>
<text class="tk" transform="translate(808.4 145.7) scale(1.15 1)" text-anchor="end">90.</text>
<text class="tk" transform="translate(1443.6 745.39) scale(1.15 1)" text-anchor="end">90.</text>
<text class="ti" style="letter-spacing:3.75px" x="968" y="108.5">150−250 m</text>
</g>
<g id="p3">
<rect x="159.7" y="852.6" width="564.4" height="564.4" fill="#f0ffff"/>
<path fill="#ffffff" d="M159.7 852.6h12.54v12.54h-12.54zM159.7 865.14h12.54v12.54h-12.54zM159.7 877.68h12.54v12.54h-12.54zM159.7 890.23h12.54v12.54h-12.54zM159.7 902.77h12.54v12.54h-12.54zM159.7 915.31h12.54v12.54h-12.54zM159.7 927.85h12.54v12.54h-12.54zM159.7 940.4h12.54v12.54h-12.54zM159.7 952.94h12.54v12.54h-12.54zM159.7 965.48h12.54v12.54h-12.54zM159.7 978.02h12.54v12.54h-12.54zM159.7 990.56h12.54v12.54h-12.54zM159.7 1003.11h12.54v12.54h-12.54zM159.7 1015.65h12.54v12.54h-12.54zM159.7 1028.19h12.54v12.54h-12.54zM159.7 1040.73h12.54v12.54h-12.54zM159.7 1053.28h12.54v12.54h-12.54zM159.7 1065.82h12.54v12.54h-12.54zM159.7 1078.36h12.54v12.54h-12.54zM159.7 1090.9h12.54v12.54h-12.54zM159.7 1103.44h12.54v12.54h-12.54zM159.7 1115.99h12.54v12.54h-12.54zM159.7 1128.53h12.54v12.54h-12.54zM159.7 1141.07h12.54v12.54h-12.54zM159.7 1153.61h12.54v12.54h-12.54zM159.7 1166.16h12.54v12.54h-12.54zM159.7 1178.7h12.54v12.54h-12.54zM159.7 1191.24h12.54v12.54h-12.54zM159.7 1203.78h12.54v12.54h-12.54zM159.7 1216.32h12.54v12.54h-12.54zM159.7 1228.87h12.54v12.54h-12.54zM159.7 1241.41h12.54v12.54h-12.54zM159.7 1253.95h12.54v12.54h-12.54zM159.7 1266.49h12.54v12.54h-12.54zM159.7 1279.04h12.54v12.54h-12.54zM159.7 1291.58h12.54v12.54h-12.54zM159.7 1304.12h12.54v12.54h-12.54zM159.7 1316.66h12.54v12.54h-12.54zM159.7 1329.2h12.54v12.54h-12.54zM159.7 1341.75h12.54v12.54h-12.54zM159.7 1354.29h12.54v12.54h-12.54zM159.7 1366.83h12.54v12.54h-12.54zM159.7 1379.37h12.54v12.54h-12.54zM159.7 1391.92h12.54v12.54h-12.54zM159.7 1404.46h12.54v12.54h-12.54z"/>
<path fill="#fef5e5" d="M184.78 852.6h12.54v12.54h-12.54zM197.33 877.68h12.54v12.54h-12.54zM172.24 915.31h12.54v12.54h-12.54zM172.24 940.4h25.08v12.54h-25.08zM172.24 952.94h12.54v12.54h-12.54zM347.83 978.02h25.08v12.54h-25.08zM335.29 990.56h62.71v12.54h-62.71zM272.58 1003.11h50.17v12.54h-50.17zM335.29 1003.11h75.25v12.54h-75.25zM285.12 1015.65h37.63v12.54h-37.63zM347.83 1015.65h62.71v12.54h-62.71zM272.58 1028.19h12.54v12.54h-12.54zM297.66 1028.19h25.08v12.54h-25.08zM360.38 1028.19h37.63v12.54h-37.63zM184.78 1040.73h12.54v12.54h-12.54zM272.58 1040.73h12.54v12.54h-12.54zM297.66 1040.73h25.08v12.54h-25.08zM360.38 1040.73h50.17v12.54h-50.17zM423.09 1040.73h50.17v12.54h-50.17zM184.78 1053.28h12.54v12.54h-12.54zM272.58 1053.28h87.8v12.54h-87.8zM372.92 1053.28h37.63v12.54h-37.63zM423.09 1053.28h12.54v12.54h-12.54zM460.71 1053.28h25.08v12.54h-25.08zM272.58 1065.82h25.08v12.54h-25.08zM322.75 1065.82h12.54v12.54h-12.54zM347.83 1065.82h12.54v12.54h-12.54zM410.54 1065.82h37.63v12.54h-37.63zM473.26 1065.82h12.54v12.54h-12.54zM523.42 1065.82h37.63v12.54h-37.63zM184.78 1078.36h12.54v12.54h-12.54zM272.58 1078.36h25.08v12.54h-25.08zM310.21 1078.36h37.63v12.54h-37.63zM360.38 1078.36h12.54v12.54h-12.54zM385.46 1078.36h50.17v12.54h-50.17zM460.71 1078.36h25.08v12.54h-25.08zM510.88 1078.36h62.71v12.54h-62.71zM272.58 1090.9h137.96v12.54h-137.96zM423.09 1090.9h50.17v12.54h-50.17zM510.88 1090.9h25.08v12.54h-25.08zM561.05 1090.9h12.54v12.54h-12.54zM285.12 1103.44h37.63v12.54h-37.63zM335.29 1103.44h12.54v12.54h-12.54zM360.38 1103.44h50.17v12.54h-50.17zM435.63 1103.44h37.63v12.54h-37.63zM510.88 1103.44h12.54v12.54h-12.54zM561.05 1103.44h12.54v12.54h-12.54zM285.12 1115.99h12.54v12.54h-12.54zM310.21 1115.99h25.08v12.54h-25.08zM372.92 1115.99h25.08v12.54h-25.08zM435.63 1115.99h62.71v12.54h-62.71zM510.88 1115.99h25.08v12.54h-25.08zM548.51 1115.99h25.08v12.54h-25.08zM310.21 1128.53h12.54v12.54h-12.54zM347.83 1128.53h25.08v12.54h-25.08zM385.46 1128.53h12.54v12.54h-12.54zM423.09 1128.53h12.54v12.54h-12.54zM448.17 1128.53h75.25v12.54h-75.25zM535.97 1128.53h12.54v12.54h-12.54zM561.05 1128.53h12.54v12.54h-12.54zM272.58 1141.07h25.08v12.54h-25.08zM435.63 1141.07h37.63v12.54h-37.63zM498.34 1141.07h25.08v12.54h-25.08zM260.04 1153.61h12.54v12.54h-12.54zM285.12 1153.61h25.08v12.54h-25.08zM347.83 1153.61h12.54v12.54h-12.54zM372.92 1153.61h12.54v12.54h-12.54zM448.17 1153.61h37.63v12.54h-37.63zM209.87 1166.16h12.54v12.54h-12.54zM285.12 1166.16h25.08v12.54h-25.08zM435.63 1166.16h75.25v12.54h-75.25zM247.5 1178.7h12.54v12.54h-12.54zM272.58 1178.7h12.54v12.54h-12.54zM297.66 1178.7h25.08v12.54h-25.08zM335.29 1178.7h12.54v12.54h-12.54zM360.38 1178.7h25.08v12.54h-25.08zM398 1178.7h25.08v12.54h-25.08zM473.26 1178.7h37.63v12.54h-37.63zM260.04 1191.24h12.54v12.54h-12.54zM285.12 1191.24h12.54v12.54h-12.54zM310.21 1191.24h12.54v12.54h-12.54zM372.92 1191.24h37.63v12.54h-37.63zM423.09 1191.24h75.25v12.54h-75.25zM260.04 1203.78h12.54v12.54h-12.54zM285.12 1203.78h25.08v12.54h-25.08zM360.38 1203.78h12.54v12.54h-12.54zM385.46 1203.78h12.54v12.54h-12.54zM448.17 1203.78h12.54v12.54h-12.54zM473.26 1203.78h25.08v12.54h-25.08zM260.04 1216.32h12.54v12.54h-12.54zM297.66 1216.32h12.54v12.54h-12.54zM372.92 1216.32h12.54v12.54h-12.54zM398 1216.32h12.54v12.54h-12.54zM423.09 1216.32h125.42v12.54h-125.42zM611.22 1216.32h12.54v12.54h-12.54zM648.85 1216.32h12.54v12.54h-12.54zM699.02 1216.32h25.08v12.54h-25.08zM272.58 1228.87h25.08v12.54h-25.08zM410.54 1228.87h12.54v12.54h-12.54zM460.71 1228.87h25.08v12.54h-25.08zM598.68 1228.87h12.54v12.54h-12.54zM636.3 1228.87h12.54v12.54h-12.54zM686.47 1228.87h12.54v12.54h-12.54zM285.12 1241.41h12.54v12.54h-12.54zM423.09 1241.41h12.54v12.54h-12.54zM448.17 1241.41h50.17v12.54h-50.17zM548.51 1241.41h12.54v12.54h-12.54zM586.14 1241.41h12.54v12.54h-12.54zM623.76 1241.41h25.08v12.54h-25.08zM686.47 1241.41h25.08v12.54h-25.08zM473.26 1253.95h12.54v12.54h-12.54zM548.51 1253.95h12.54v12.54h-12.54zM573.59 1253.95h25.08v12.54h-25.08zM623.76 1253.95h12.54v12.54h-12.54zM686.47 1253.95h25.08v12.54h-25.08zM410.54 1266.49h25.08v12.54h-25.08zM448.17 1266.49h12.54v12.54h-12.54zM473.26 1266.49h12.54v12.54h-12.54zM548.51 1266.49h12.54v12.54h-12.54zM586.14 1266.49h12.54v12.54h-12.54zM611.22 1266.49h25.08v12.54h-25.08zM398 1279.04h12.54v12.54h-12.54zM473.26 1279.04h12.54v12.54h-12.54zM548.51 1279.04h37.63v12.54h-37.63zM598.68 1279.04h12.54v12.54h-12.54zM623.76 1279.04h25.08v12.54h-25.08zM423.09 1291.58h12.54v12.54h-12.54zM498.34 1291.58h12.54v12.54h-12.54zM561.05 1291.58h12.54v12.54h-12.54zM586.14 1291.58h62.71v12.54h-62.71zM423.09 1304.12h12.54v12.54h-12.54zM460.71 1304.12h25.08v12.54h-25.08zM498.34 1304.12h25.08v12.54h-25.08zM548.51 1304.12h37.63v12.54h-37.63zM598.68 1304.12h37.63v12.54h-37.63zM410.54 1316.66h12.54v12.54h-12.54zM473.26 1316.66h12.54v12.54h-12.54zM498.34 1316.66h25.08v12.54h-25.08zM548.51 1316.66h25.08v12.54h-25.08zM598.68 1316.66h12.54v12.54h-12.54zM435.63 1329.2h12.54v12.54h-12.54zM510.88 1329.2h12.54v12.54h-12.54zM548.51 1329.2h37.63v12.54h-37.63zM385.46 1341.75h12.54v12.54h-12.54zM498.34 1341.75h50.17v12.54h-50.17zM573.59 1341.75h12.54v12.54h-12.54zM410.54 1354.29h12.54v12.54h-12.54zM535.97 1354.29h12.54v12.54h-12.54zM561.05 1354.29h25.08v12.54h-25.08zM548.51 1366.83h25.08v12.54h-25.08zM686.47 1379.37h12.54v12.54h-12.54zM561.05 1391.92h37.63v12.54h-37.63zM561.05 1404.46h12.54v12.54h-12.54z"/>
<path fill="#e3eef9" d="M523.42 940.4h25.08v12.54h-25.08zM498.34 952.94h12.54v12.54h-12.54zM535.97 952.94h12.54v12.54h-12.54zM498.34 965.48h50.17v12.54h-50.17zM172.24 1015.65h12.54v12.54h-12.54zM184.78 1028.19h25.08v12.54h-25.08zM209.87 1040.73h12.54v12.54h-12.54zM172.24 1053.28h12.54v12.54h-12.54zM209.87 1053.28h12.54v12.54h-12.54zM172.24 1065.82h37.63v12.54h-37.63zM222.41 1065.82h12.54v12.54h-12.54zM172.24 1078.36h12.54v12.54h-12.54zM209.87 1078.36h25.08v12.54h-25.08zM172.24 1090.9h50.17v12.54h-50.17zM172.24 1103.44h12.54v12.54h-12.54zM209.87 1103.44h25.08v12.54h-25.08zM184.78 1115.99h25.08v12.54h-25.08zM184.78 1128.53h12.54v12.54h-12.54zM172.24 1141.07h37.63v12.54h-37.63zM172.24 1153.61h12.54v12.54h-12.54zM172.24 1166.16h25.08v12.54h-25.08zM322.75 1166.16h12.54v12.54h-12.54zM372.92 1166.16h12.54v12.54h-12.54zM172.24 1178.7h37.63v12.54h-37.63zM260.04 1178.7h12.54v12.54h-12.54zM385.46 1178.7h12.54v12.54h-12.54zM172.24 1191.24h12.54v12.54h-12.54zM310.21 1216.32h12.54v12.54h-12.54zM385.46 1216.32h12.54v12.54h-12.54zM297.66 1241.41h12.54v12.54h-12.54zM184.78 1304.12h12.54v12.54h-12.54zM172.24 1316.66h37.63v12.54h-37.63zM172.24 1329.2h50.17v12.54h-50.17zM172.24 1341.75h62.71v12.54h-62.71zM460.71 1341.75h12.54v12.54h-12.54zM184.78 1354.29h50.17v12.54h-50.17zM623.76 1354.29h12.54v12.54h-12.54zM686.47 1354.29h12.54v12.54h-12.54zM172.24 1366.83h12.54v12.54h-12.54zM197.33 1366.83h25.08v12.54h-25.08zM623.76 1366.83h25.08v12.54h-25.08zM197.33 1379.37h25.08v12.54h-25.08zM435.63 1379.37h25.08v12.54h-25.08zM485.8 1379.37h25.08v12.54h-25.08zM535.97 1379.37h12.54v12.54h-12.54zM209.87 1391.92h25.08v12.54h-25.08zM510.88 1391.92h12.54v12.54h-12.54zM222.41 1404.46h25.08v12.54h-25.08zM423.09 1404.46h12.54v12.54h-12.54zM448.17 1404.46h12.54v12.54h-12.54zM485.8 1404.46h75.25v12.54h-75.25z"/>
<path fill="#d0ecec" d="M510.88 952.94h12.54v12.54h-12.54zM172.24 1040.73h12.54v12.54h-12.54zM172.24 1115.99h12.54v12.54h-12.54zM172.24 1128.53h12.54v12.54h-12.54zM360.38 1191.24h12.54v12.54h-12.54zM460.71 1404.46h25.08v12.54h-25.08z"/>
<path fill="#ffe4b5" d="M285.12 1028.19h12.54v12.54h-12.54zM435.63 1053.28h25.08v12.54h-25.08zM335.29 1065.82h12.54v12.54h-12.54zM360.38 1065.82h12.54v12.54h-12.54zM448.17 1065.82h25.08v12.54h-25.08zM347.83 1078.36h12.54v12.54h-12.54zM435.63 1078.36h12.54v12.54h-12.54zM535.97 1090.9h25.08v12.54h-25.08zM347.83 1103.44h12.54v12.54h-12.54zM523.42 1103.44h37.63v12.54h-37.63zM347.83 1115.99h25.08v12.54h-25.08zM535.97 1115.99h12.54v12.54h-12.54zM485.8 1141.07h12.54v12.54h-12.54zM410.54 1153.61h12.54v12.54h-12.54zM498.34 1153.61h12.54v12.54h-12.54zM385.46 1166.16h12.54v12.54h-12.54zM272.58 1191.24h12.54v12.54h-12.54zM398 1228.87h12.54v12.54h-12.54zM523.42 1228.87h25.08v12.54h-25.08zM611.22 1228.87h12.54v12.54h-12.54zM435.63 1241.41h12.54v12.54h-12.54zM535.97 1241.41h12.54v12.54h-12.54zM598.68 1241.41h25.08v12.54h-25.08zM410.54 1253.95h12.54v12.54h-12.54zM485.8 1253.95h12.54v12.54h-12.54zM510.88 1253.95h12.54v12.54h-12.54zM535.97 1253.95h12.54v12.54h-12.54zM598.68 1253.95h25.08v12.54h-25.08zM485.8 1266.49h12.54v12.54h-12.54zM510.88 1266.49h37.63v12.54h-37.63zM598.68 1266.49h12.54v12.54h-12.54zM485.8 1279.04h12.54v12.54h-12.54zM523.42 1279.04h12.54v12.54h-12.54zM611.22 1279.04h12.54v12.54h-12.54zM485.8 1291.58h12.54v12.54h-12.54zM523.42 1291.58h37.63v12.54h-37.63zM523.42 1316.66h25.08v12.54h-25.08zM523.42 1329.2h25.08v12.54h-25.08zM548.51 1341.75h25.08v12.54h-25.08zM548.51 1354.29h12.54v12.54h-12.54z"/>
<path fill="#f4a460" d="M448.17 1078.36h12.54v12.54h-12.54zM473.26 1141.07h12.54v12.54h-12.54zM485.8 1153.61h12.54v12.54h-12.54zM310.21 1166.16h12.54v12.54h-12.54zM285.12 1178.7h12.54v12.54h-12.54zM285.12 1216.32h12.54v12.54h-12.54zM485.8 1228.87h37.63v12.54h-37.63zM498.34 1241.41h12.54v12.54h-12.54zM523.42 1241.41h12.54v12.54h-12.54zM498.34 1253.95h12.54v12.54h-12.54zM523.42 1253.95h12.54v12.54h-12.54zM498.34 1266.49h12.54v12.54h-12.54zM498.34 1279.04h25.08v12.54h-25.08zM535.97 1279.04h12.54v12.54h-12.54zM510.88 1291.58h12.54v12.54h-12.54zM523.42 1304.12h25.08v12.54h-25.08z"/>
<path fill="#ee7600" d="M510.88 1241.41h12.54v12.54h-12.54z"/>
<path fill="none" shape-rendering="crispEdges" stroke="#000" stroke-opacity="0.62" stroke-width="1" d="M172.24 852.6v564.4M159.7 865.14h564.4M184.78 852.6v564.4M159.7 877.68h564.4M197.33 852.6v564.4M159.7 890.23h564.4M209.87 852.6v564.4M159.7 902.77h564.4M222.41 852.6v564.4M159.7 915.31h564.4M234.95 852.6v564.4M159.7 927.85h564.4M247.5 852.6v564.4M159.7 940.4h564.4M260.04 852.6v564.4M159.7 952.94h564.4M272.58 852.6v564.4M159.7 965.48h564.4M285.12 852.6v564.4M159.7 978.02h564.4M297.66 852.6v564.4M159.7 990.56h564.4M310.21 852.6v564.4M159.7 1003.11h564.4M322.75 852.6v564.4M159.7 1015.65h564.4M335.29 852.6v564.4M159.7 1028.19h564.4M347.83 852.6v564.4M159.7 1040.73h564.4M360.38 852.6v564.4M159.7 1053.28h564.4M372.92 852.6v564.4M159.7 1065.82h564.4M385.46 852.6v564.4M159.7 1078.36h564.4M398 852.6v564.4M159.7 1090.9h564.4M410.54 852.6v564.4M159.7 1103.44h564.4M423.09 852.6v564.4M159.7 1115.99h564.4M435.63 852.6v564.4M159.7 1128.53h564.4M448.17 852.6v564.4M159.7 1141.07h564.4M460.71 852.6v564.4M159.7 1153.61h564.4M473.26 852.6v564.4M159.7 1166.16h564.4M485.8 852.6v564.4M159.7 1178.7h564.4M498.34 852.6v564.4M159.7 1191.24h564.4M510.88 852.6v564.4M159.7 1203.78h564.4M523.42 852.6v564.4M159.7 1216.32h564.4M535.97 852.6v564.4M159.7 1228.87h564.4M548.51 852.6v564.4M159.7 1241.41h564.4M561.05 852.6v564.4M159.7 1253.95h564.4M573.59 852.6v564.4M159.7 1266.49h564.4M586.14 852.6v564.4M159.7 1279.04h564.4M598.68 852.6v564.4M159.7 1291.58h564.4M611.22 852.6v564.4M159.7 1304.12h564.4M623.76 852.6v564.4M159.7 1316.66h564.4M636.3 852.6v564.4M159.7 1329.2h564.4M648.85 852.6v564.4M159.7 1341.75h564.4M661.39 852.6v564.4M159.7 1354.29h564.4M673.93 852.6v564.4M159.7 1366.83h564.4M686.47 852.6v564.4M159.7 1379.37h564.4M699.02 852.6v564.4M159.7 1391.92h564.4M711.56 852.6v564.4M159.7 1404.46h564.4"/>
<path fill="none" stroke="#000" stroke-width="2.3" stroke-linecap="round" d="M159.7 852.6h564.4v564.4h-564.4zM159.7 1417h-14.3M159.7 1417v14.3M159.7 1228.87h-14.3M347.83 1417v14.3M159.7 1040.73h-14.3M535.97 1417v14.3M159.7 852.6h-14.3M724.1 1417v14.3"/>
<circle cx="438.8" cy="884.21" r="7" fill="none" stroke="#000" stroke-width="2.3"/>
<circle cx="586.95" cy="1012.44" r="7" fill="none" stroke="#000" stroke-width="2.3"/>
<circle cx="310.23" cy="1032.81" r="7" fill="none" stroke="#000" stroke-width="2.3"/>
<circle cx="556.08" cy="1097.78" r="7" fill="none" stroke="#000" stroke-width="2.3"/>
<circle cx="436.03" cy="1174.14" r="7" fill="none" stroke="#000" stroke-width="2.3"/>
<circle cx="533.28" cy="1337.48" r="7" fill="none" stroke="#000" stroke-width="2.3"/>
<text class="tk" transform="translate(116.9 1424) scale(1.15 1)" text-anchor="end">0.</text>
<text class="tk" transform="translate(187.7 1459.51) scale(1.15 1)" text-anchor="end">0.</text>
<text class="tk" transform="translate(116.9 1235.87) scale(1.15 1)" text-anchor="end">30.</text>
<text class="tk" transform="translate(375.83 1459.51) scale(1.15 1)" text-anchor="end">30.</text>
<text class="tk" transform="translate(116.9 1047.73) scale(1.15 1)" text-anchor="end">60.</text>
<text class="tk" transform="translate(563.97 1459.51) scale(1.15 1)" text-anchor="end">60.</text>
<text class="tk" transform="translate(116.9 859.6) scale(1.15 1)" text-anchor="end">90.</text>
<text class="tk" transform="translate(752.1 1459.51) scale(1.15 1)" text-anchor="end">90.</text>
<text class="ti" style="letter-spacing:3.95px" x="276.5" y="822.4">250−350 m</text>
<text class="ax" transform="translate(30.4 1142.8) rotate(-90)" text-anchor="middle">Distance north (km)</text>
</g>
<g id="p4">
<rect x="853.2" y="852.6" width="564.7" height="564.4" fill="#f0ffff"/>
<path fill="#ffffff" d="M853.2 852.6h12.55v12.54h-12.55zM853.2 865.14h12.55v12.54h-12.55zM853.2 877.68h12.55v12.54h-12.55zM853.2 890.23h12.55v12.54h-12.55zM853.2 902.77h12.55v12.54h-12.55zM853.2 915.31h12.55v12.54h-12.55zM853.2 927.85h12.55v12.54h-12.55zM853.2 940.4h12.55v12.54h-12.55zM853.2 952.94h12.55v12.54h-12.55zM853.2 965.48h12.55v12.54h-12.55zM853.2 978.02h12.55v12.54h-12.55zM853.2 990.56h12.55v12.54h-12.55zM853.2 1003.11h12.55v12.54h-12.55zM853.2 1015.65h12.55v12.54h-12.55zM853.2 1028.19h12.55v12.54h-12.55zM853.2 1040.73h12.55v12.54h-12.55zM853.2 1053.28h12.55v12.54h-12.55zM853.2 1065.82h12.55v12.54h-12.55zM853.2 1078.36h12.55v12.54h-12.55zM853.2 1090.9h12.55v12.54h-12.55zM853.2 1103.44h12.55v12.54h-12.55zM853.2 1115.99h12.55v12.54h-12.55zM853.2 1128.53h12.55v12.54h-12.55zM853.2 1141.07h12.55v12.54h-12.55zM853.2 1153.61h12.55v12.54h-12.55zM853.2 1166.16h12.55v12.54h-12.55zM853.2 1178.7h12.55v12.54h-12.55zM853.2 1191.24h12.55v12.54h-12.55zM853.2 1203.78h12.55v12.54h-12.55zM853.2 1216.32h12.55v12.54h-12.55zM853.2 1228.87h12.55v12.54h-12.55zM853.2 1241.41h12.55v12.54h-12.55zM853.2 1253.95h12.55v12.54h-12.55zM853.2 1266.49h12.55v12.54h-12.55zM853.2 1279.04h12.55v12.54h-12.55zM853.2 1291.58h12.55v12.54h-12.55zM853.2 1304.12h12.55v12.54h-12.55zM853.2 1316.66h12.55v12.54h-12.55zM853.2 1329.2h12.55v12.54h-12.55zM853.2 1341.75h12.55v12.54h-12.55zM853.2 1354.29h12.55v12.54h-12.55zM853.2 1366.83h12.55v12.54h-12.55zM853.2 1379.37h12.55v12.54h-12.55zM853.2 1391.92h12.55v12.54h-12.55zM853.2 1404.46h12.55v12.54h-12.55z"/>
<path fill="#fef5e5" d="M865.75 852.6h37.65v12.54h-37.65zM878.3 865.14h12.55v12.54h-12.55zM865.75 877.68h37.65v12.54h-37.65zM941.04 927.85h37.65v12.54h-37.65zM978.69 940.4h12.55v12.54h-12.55zM928.49 952.94h62.74v12.54h-62.74zM1003.79 952.94h12.55v12.54h-12.55zM903.4 965.48h12.55v12.54h-12.55zM928.49 965.48h12.55v12.54h-12.55zM953.59 965.48h12.55v12.54h-12.55zM978.69 965.48h25.1v12.54h-25.1zM1028.88 965.48h37.65v12.54h-37.65zM865.75 978.02h12.55v12.54h-12.55zM928.49 978.02h50.2v12.54h-50.2zM1028.88 978.02h50.2v12.54h-50.2zM1179.47 978.02h12.55v12.54h-12.55zM941.04 990.56h12.55v12.54h-12.55zM966.14 990.56h87.84v12.54h-87.84zM1066.53 990.56h25.1v12.54h-25.1zM1179.47 990.56h12.55v12.54h-12.55zM941.04 1003.11h50.2v12.54h-50.2zM1028.88 1003.11h75.29v12.54h-75.29zM978.69 1015.65h25.1v12.54h-25.1zM1053.98 1015.65h50.2v12.54h-50.2zM966.14 1028.19h37.65v12.54h-37.65zM1053.98 1028.19h50.2v12.54h-50.2zM878.3 1040.73h12.55v12.54h-12.55zM991.24 1040.73h50.2v12.54h-50.2zM1053.98 1040.73h50.2v12.54h-50.2zM890.85 1053.28h12.55v12.54h-12.55zM978.69 1053.28h125.49v12.54h-125.49zM978.69 1065.82h12.55v12.54h-12.55zM1016.34 1065.82h25.1v12.54h-25.1zM1066.53 1065.82h12.55v12.54h-12.55zM1104.18 1065.82h12.55v12.54h-12.55zM1166.92 1065.82h25.1v12.54h-25.1zM1204.57 1065.82h12.55v12.54h-12.55zM966.14 1078.36h25.1v12.54h-25.1zM1003.79 1078.36h62.74v12.54h-62.74zM1091.63 1078.36h25.1v12.54h-25.1zM1166.92 1078.36h12.55v12.54h-12.55zM1192.02 1078.36h25.1v12.54h-25.1zM978.69 1090.9h75.29v12.54h-75.29zM1066.53 1090.9h112.94v12.54h-112.94zM1204.57 1090.9h12.55v12.54h-12.55zM1003.79 1103.44h12.55v12.54h-12.55zM1028.88 1103.44h12.55v12.54h-12.55zM1053.98 1103.44h62.74v12.54h-62.74zM1141.82 1103.44h37.65v12.54h-37.65zM1204.57 1103.44h25.1v12.54h-25.1zM1003.79 1115.99h25.1v12.54h-25.1zM1041.43 1115.99h12.55v12.54h-12.55zM1066.53 1115.99h25.1v12.54h-25.1zM1129.28 1115.99h12.55v12.54h-12.55zM1154.37 1115.99h25.1v12.54h-25.1zM1192.02 1115.99h12.55v12.54h-12.55zM1217.12 1115.99h12.55v12.54h-12.55zM1003.79 1128.53h12.55v12.54h-12.55zM1041.43 1128.53h25.1v12.54h-25.1zM1079.08 1128.53h12.55v12.54h-12.55zM1116.73 1128.53h12.55v12.54h-12.55zM1141.82 1128.53h25.1v12.54h-25.1zM1179.47 1128.53h37.65v12.54h-37.65zM978.69 1141.07h12.55v12.54h-12.55zM1129.28 1141.07h50.2v12.54h-50.2zM953.59 1153.61h12.55v12.54h-12.55zM978.69 1153.61h25.1v12.54h-25.1zM1041.43 1153.61h12.55v12.54h-12.55zM1066.53 1153.61h12.55v12.54h-12.55zM1141.82 1153.61h25.1v12.54h-25.1zM1179.47 1153.61h12.55v12.54h-12.55zM978.69 1166.16h25.1v12.54h-25.1zM1129.28 1166.16h75.29v12.54h-75.29zM1279.86 1166.16h25.1v12.54h-25.1zM966.14 1178.7h12.55v12.54h-12.55zM991.24 1178.7h12.55v12.54h-12.55zM1016.34 1178.7h25.1v12.54h-25.1zM1053.98 1178.7h25.1v12.54h-25.1zM1091.63 1178.7h25.1v12.54h-25.1zM1166.92 1178.7h37.65v12.54h-37.65zM1279.86 1178.7h12.55v12.54h-12.55zM953.59 1191.24h12.55v12.54h-12.55zM978.69 1191.24h12.55v12.54h-12.55zM1016.34 1191.24h12.55v12.54h-12.55zM1066.53 1191.24h25.1v12.54h-25.1zM1129.28 1191.24h62.74v12.54h-62.74zM1304.96 1191.24h12.55v12.54h-12.55zM1330.06 1191.24h12.55v12.54h-12.55zM953.59 1203.78h12.55v12.54h-12.55zM978.69 1203.78h37.65v12.54h-37.65zM1041.43 1203.78h50.2v12.54h-50.2zM1141.82 1203.78h12.55v12.54h-12.55zM1166.92 1203.78h25.1v12.54h-25.1zM1292.41 1203.78h25.1v12.54h-25.1zM953.59 1216.32h12.55v12.54h-12.55zM991.24 1216.32h12.55v12.54h-12.55zM1053.98 1216.32h12.55v12.54h-12.55zM1091.63 1216.32h12.55v12.54h-12.55zM1116.73 1216.32h87.84v12.54h-87.84zM1304.96 1216.32h12.55v12.54h-12.55zM966.14 1228.87h25.1v12.54h-25.1zM1053.98 1228.87h12.55v12.54h-12.55zM1079.08 1228.87h12.55v12.54h-12.55zM1104.18 1228.87h12.55v12.54h-12.55zM1129.28 1228.87h12.55v12.54h-12.55zM1179.47 1228.87h12.55v12.54h-12.55zM1367.7 1228.87h25.1v12.54h-25.1zM978.69 1241.41h12.55v12.54h-12.55zM1116.73 1241.41h37.65v12.54h-37.65zM1166.92 1241.41h12.55v12.54h-12.55zM1380.25 1241.41h12.55v12.54h-12.55zM1091.63 1253.95h12.55v12.54h-12.55zM1116.73 1253.95h12.55v12.54h-12.55zM1166.92 1253.95h37.65v12.54h-37.65zM1292.41 1253.95h37.65v12.54h-37.65zM1066.53 1266.49h12.55v12.54h-12.55zM1104.18 1266.49h25.1v12.54h-25.1zM1141.82 1266.49h12.55v12.54h-12.55zM1179.47 1266.49h25.1v12.54h-25.1zM1229.67 1266.49h12.55v12.54h-12.55zM1279.86 1266.49h62.74v12.54h-62.74zM1091.63 1279.04h25.1v12.54h-25.1zM1166.92 1279.04h25.1v12.54h-25.1zM1204.57 1279.04h37.65v12.54h-37.65zM1254.76 1279.04h37.65v12.54h-37.65zM1317.51 1279.04h37.65v12.54h-37.65zM1367.7 1279.04h12.55v12.54h-12.55zM1116.73 1291.58h12.55v12.54h-12.55zM1179.47 1291.58h25.1v12.54h-25.1zM1242.22 1291.58h25.1v12.54h-25.1zM1279.86 1291.58h62.74v12.54h-62.74zM1079.08 1304.12h12.55v12.54h-12.55zM1116.73 1304.12h12.55v12.54h-12.55zM1154.37 1304.12h12.55v12.54h-12.55zM1179.47 1304.12h25.1v12.54h-25.1zM1242.22 1304.12h37.65v12.54h-37.65zM1304.96 1304.12h12.55v12.54h-12.55zM1091.63 1316.66h25.1v12.54h-25.1zM1192.02 1316.66h25.1v12.54h-25.1zM1242.22 1316.66h25.1v12.54h-25.1zM1079.08 1329.2h12.55v12.54h-12.55zM1192.02 1329.2h25.1v12.54h-25.1zM1242.22 1329.2h25.1v12.54h-25.1zM1217.12 1341.75h37.65v12.54h-37.65zM1104.18 1354.29h12.55v12.54h-12.55zM1079.08 1366.83h12.55v12.54h-12.55zM1380.25 1379.37h12.55v12.54h-12.55zM1254.76 1391.92h37.65v12.54h-37.65zM1254.76 1404.46h12.55v12.54h-12.55z"/>
<path fill="#e3eef9" d="M1380.25 902.77h12.55v12.54h-12.55zM1380.25 915.31h25.1v12.54h-25.1zM1367.7 927.85h25.1v12.54h-25.1zM1405.35 927.85h12.55v12.54h-12.55zM1380.25 940.4h37.65v12.54h-37.65zM1192.02 952.94h25.1v12.54h-25.1zM1367.7 952.94h25.1v12.54h-25.1zM1405.35 952.94h12.55v12.54h-12.55zM1204.57 965.48h12.55v12.54h-12.55zM878.3 1003.11h12.55v12.54h-12.55zM865.75 1015.65h12.55v12.54h-12.55zM890.85 1028.19h12.55v12.54h-12.55zM928.49 1028.19h12.55v12.54h-12.55zM865.75 1040.73h12.55v12.54h-12.55zM903.4 1040.73h12.55v12.54h-12.55zM903.4 1053.28h12.55v12.54h-12.55zM903.4 1065.82h25.1v12.54h-25.1zM903.4 1078.36h37.65v12.54h-37.65zM890.85 1090.9h25.1v12.54h-25.1zM928.49 1090.9h12.55v12.54h-12.55zM865.75 1103.44h62.74v12.54h-62.74zM941.04 1103.44h12.55v12.54h-12.55zM865.75 1115.99h12.55v12.54h-12.55zM903.4 1115.99h12.55v12.54h-12.55zM865.75 1128.53h12.55v12.54h-12.55zM903.4 1128.53h12.55v12.54h-12.55zM1066.53 1128.53h12.55v12.54h-12.55zM865.75 1141.07h12.55v12.54h-12.55zM890.85 1141.07h12.55v12.54h-12.55zM865.75 1153.61h12.55v12.54h-12.55zM865.75 1166.16h12.55v12.54h-12.55zM1066.53 1166.16h12.55v12.54h-12.55zM865.75 1178.7h37.65v12.54h-37.65zM953.59 1178.7h12.55v12.54h-12.55zM1304.96 1178.7h12.55v12.54h-12.55zM865.75 1191.24h12.55v12.54h-12.55zM941.04 1203.78h12.55v12.54h-12.55zM1028.88 1203.78h12.55v12.54h-12.55zM1003.79 1216.32h12.55v12.54h-12.55zM1079.08 1216.32h12.55v12.54h-12.55zM941.04 1228.87h12.55v12.54h-12.55zM1016.34 1228.87h12.55v12.54h-12.55zM991.24 1241.41h12.55v12.54h-12.55zM1066.53 1241.41h12.55v12.54h-12.55zM1028.88 1266.49h12.55v12.54h-12.55zM1079.08 1266.49h25.1v12.54h-25.1zM1053.98 1279.04h37.65v12.54h-37.65zM1079.08 1291.58h12.55v12.54h-12.55zM1342.61 1316.66h12.55v12.54h-12.55zM1380.25 1354.29h12.55v12.54h-12.55zM1330.06 1366.83h12.55v12.54h-12.55zM1192.02 1379.37h12.55v12.54h-12.55zM1204.57 1391.92h25.1v12.54h-25.1zM1179.47 1404.46h75.29v12.54h-75.29z"/>
<path fill="#d0ecec" d="M1192.02 965.48h12.55v12.54h-12.55zM878.3 1028.19h12.55v12.54h-12.55zM878.3 1065.82h25.1v12.54h-25.1zM878.3 1090.9h12.55v12.54h-12.55zM878.3 1115.99h12.55v12.54h-12.55zM878.3 1128.53h12.55v12.54h-12.55zM878.3 1141.07h12.55v12.54h-12.55zM878.3 1166.16h12.55v12.54h-12.55zM1016.34 1166.16h12.55v12.54h-12.55zM1079.08 1178.7h12.55v12.54h-12.55zM1053.98 1191.24h12.55v12.54h-12.55z"/>
<path fill="#ffe4b5" d="M1053.98 990.56h12.55v12.54h-12.55zM991.24 1003.11h25.1v12.54h-25.1zM1003.79 1015.65h50.2v12.54h-50.2zM1003.79 1028.19h25.1v12.54h-25.1zM1041.43 1028.19h12.55v12.54h-12.55zM1041.43 1040.73h12.55v12.54h-12.55zM1053.98 1065.82h12.55v12.54h-12.55zM1079.08 1065.82h25.1v12.54h-25.1zM1079.08 1078.36h12.55v12.54h-12.55zM1179.47 1078.36h12.55v12.54h-12.55zM1053.98 1090.9h12.55v12.54h-12.55zM1179.47 1090.9h25.1v12.54h-25.1zM1041.43 1103.44h12.55v12.54h-12.55zM1129.28 1103.44h12.55v12.54h-12.55zM1179.47 1103.44h25.1v12.54h-25.1zM1053.98 1115.99h12.55v12.54h-12.55zM1141.82 1115.99h12.55v12.54h-12.55zM1179.47 1115.99h12.55v12.54h-12.55zM1204.57 1115.99h12.55v12.54h-12.55zM1104.18 1153.61h12.55v12.54h-12.55zM1003.79 1178.7h12.55v12.54h-12.55zM1003.79 1191.24h12.55v12.54h-12.55zM1016.34 1216.32h37.65v12.54h-37.65zM1066.53 1216.32h12.55v12.54h-12.55zM1041.43 1228.87h12.55v12.54h-12.55zM1016.34 1241.41h12.55v12.54h-12.55zM1053.98 1241.41h12.55v12.54h-12.55zM1079.08 1241.41h12.55v12.54h-12.55zM1016.34 1253.95h12.55v12.54h-12.55zM1053.98 1253.95h12.55v12.54h-12.55zM1079.08 1253.95h12.55v12.54h-12.55zM1192.02 1279.04h12.55v12.54h-12.55zM1292.41 1279.04h25.1v12.54h-25.1zM1204.57 1291.58h37.65v12.54h-37.65zM1204.57 1304.12h12.55v12.54h-12.55zM1217.12 1316.66h25.1v12.54h-25.1zM1217.12 1329.2h25.1v12.54h-25.1zM1079.08 1341.75h12.55v12.54h-12.55z"/>
<path fill="#f4a460" d="M1016.34 1003.11h12.55v12.54h-12.55zM1028.88 1028.19h12.55v12.54h-12.55zM1003.79 1166.16h12.55v12.54h-12.55zM1079.08 1166.16h12.55v12.54h-12.55zM966.14 1191.24h12.55v12.54h-12.55zM978.69 1216.32h12.55v12.54h-12.55zM1066.53 1228.87h12.55v12.54h-12.55zM1091.63 1228.87h12.55v12.54h-12.55zM1104.18 1253.95h12.55v12.54h-12.55zM1053.98 1266.49h12.55v12.54h-12.55zM1217.12 1304.12h25.1v12.54h-25.1z"/>
<path fill="#add8e6" d="M890.85 1115.99h12.55v12.54h-12.55z"/>
<path fill="#ee7600" d="M978.69 1178.7h12.55v12.54h-12.55z"/>
<path fill="none" shape-rendering="crispEdges" stroke="#000" stroke-opacity="0.62" stroke-width="1" d="M865.75 852.6v564.4M853.2 865.14h564.7M878.3 852.6v564.4M853.2 877.68h564.7M890.85 852.6v564.4M853.2 890.23h564.7M903.4 852.6v564.4M853.2 902.77h564.7M915.94 852.6v564.4M853.2 915.31h564.7M928.49 852.6v564.4M853.2 927.85h564.7M941.04 852.6v564.4M853.2 940.4h564.7M953.59 852.6v564.4M853.2 952.94h564.7M966.14 852.6v564.4M853.2 965.48h564.7M978.69 852.6v564.4M853.2 978.02h564.7M991.24 852.6v564.4M853.2 990.56h564.7M1003.79 852.6v564.4M853.2 1003.11h564.7M1016.34 852.6v564.4M853.2 1015.65h564.7M1028.88 852.6v564.4M853.2 1028.19h564.7M1041.43 852.6v564.4M853.2 1040.73h564.7M1053.98 852.6v564.4M853.2 1053.28h564.7M1066.53 852.6v564.4M853.2 1065.82h564.7M1079.08 852.6v564.4M853.2 1078.36h564.7M1091.63 852.6v564.4M853.2 1090.9h564.7M1104.18 852.6v564.4M853.2 1103.44h564.7M1116.73 852.6v564.4M853.2 1115.99h564.7M1129.28 852.6v564.4M853.2 1128.53h564.7M1141.82 852.6v564.4M853.2 1141.07h564.7M1154.37 852.6v564.4M853.2 1153.61h564.7M1166.92 852.6v564.4M853.2 1166.16h564.7M1179.47 852.6v564.4M853.2 1178.7h564.7M1192.02 852.6v564.4M853.2 1191.24h564.7M1204.57 852.6v564.4M853.2 1203.78h564.7M1217.12 852.6v564.4M853.2 1216.32h564.7M1229.67 852.6v564.4M853.2 1228.87h564.7M1242.22 852.6v564.4M853.2 1241.41h564.7M1254.76 852.6v564.4M853.2 1253.95h564.7M1267.31 852.6v564.4M853.2 1266.49h564.7M1279.86 852.6v564.4M853.2 1279.04h564.7M1292.41 852.6v564.4M853.2 1291.58h564.7M1304.96 852.6v564.4M853.2 1304.12h564.7M1317.51 852.6v564.4M853.2 1316.66h564.7M1330.06 852.6v564.4M853.2 1329.2h564.7M1342.61 852.6v564.4M853.2 1341.75h564.7M1355.16 852.6v564.4M853.2 1354.29h564.7M1367.7 852.6v564.4M853.2 1366.83h564.7M1380.25 852.6v564.4M853.2 1379.37h564.7M1392.8 852.6v564.4M853.2 1391.92h564.7M1405.35 852.6v564.4M853.2 1404.46h564.7"/>
<path fill="none" stroke="#000" stroke-width="2.3" stroke-linecap="round" d="M853.2 852.6h564.7v564.4h-564.7zM853.2 1417h-14.3M853.2 1417v14.3M853.2 1228.87h-14.3M1041.43 1417v14.3M853.2 1040.73h-14.3M1229.67 1417v14.3M853.2 852.6h-14.3M1417.9 1417v14.3"/>
<circle cx="1132.44" cy="884.21" r="7" fill="none" stroke="#000" stroke-width="2.3"/>
<circle cx="1280.68" cy="1012.44" r="7" fill="none" stroke="#000" stroke-width="2.3"/>
<circle cx="1003.81" cy="1032.81" r="7" fill="none" stroke="#000" stroke-width="2.3"/>
<circle cx="1249.79" cy="1097.78" r="7" fill="none" stroke="#000" stroke-width="2.3"/>
<circle cx="1129.68" cy="1174.14" r="7" fill="none" stroke="#000" stroke-width="2.3"/>
<circle cx="1226.97" cy="1337.48" r="7" fill="none" stroke="#000" stroke-width="2.3"/>
<text class="tk" transform="translate(810.4 1424) scale(1.15 1)" text-anchor="end">0.</text>
<text class="tk" transform="translate(881.2 1459.51) scale(1.15 1)" text-anchor="end">0.</text>
<text class="tk" transform="translate(810.4 1235.87) scale(1.15 1)" text-anchor="end">30.</text>
<text class="tk" transform="translate(1069.43 1459.51) scale(1.15 1)" text-anchor="end">30.</text>
<text class="tk" transform="translate(810.4 1047.73) scale(1.15 1)" text-anchor="end">60.</text>
<text class="tk" transform="translate(1257.67 1459.51) scale(1.15 1)" text-anchor="end">60.</text>
<text class="tk" transform="translate(810.4 859.6) scale(1.15 1)" text-anchor="end">90.</text>
<text class="tk" transform="translate(1445.9 1459.51) scale(1.15 1)" text-anchor="end">90.</text>
<text class="ti" style="letter-spacing:3.87px" x="969.5" y="822.4">350−450 m</text>
</g>
<g id="p5">
<rect x="163.1" y="1563.3" width="557.6" height="558.3" fill="#f0ffff"/>
<path fill="#ffffff" d="M163.1 1563.3h12.39v12.41h-12.39zM163.1 1575.71h12.39v12.41h-12.39zM163.1 1588.11h12.39v12.41h-12.39zM163.1 1600.52h12.39v12.41h-12.39zM163.1 1612.93h12.39v12.41h-12.39zM163.1 1625.33h12.39v12.41h-12.39zM163.1 1637.74h12.39v12.41h-12.39zM163.1 1650.15h12.39v12.41h-12.39zM163.1 1662.55h12.39v12.41h-12.39zM163.1 1674.96h12.39v12.41h-12.39zM163.1 1687.37h12.39v12.41h-12.39zM163.1 1699.77h12.39v12.41h-12.39zM163.1 1712.18h12.39v12.41h-12.39zM163.1 1724.59h12.39v12.41h-12.39zM163.1 1736.99h12.39v12.41h-12.39zM163.1 1749.4h12.39v12.41h-12.39zM163.1 1761.81h12.39v12.41h-12.39zM163.1 1774.21h12.39v12.41h-12.39zM163.1 1786.62h12.39v12.41h-12.39zM163.1 1799.03h12.39v12.41h-12.39zM163.1 1811.43h12.39v12.41h-12.39zM163.1 1823.84h12.39v12.41h-12.39zM163.1 1836.25h12.39v12.41h-12.39zM163.1 1848.65h12.39v12.41h-12.39zM163.1 1861.06h12.39v12.41h-12.39zM163.1 1873.47h12.39v12.41h-12.39zM163.1 1885.87h12.39v12.41h-12.39zM163.1 1898.28h12.39v12.41h-12.39zM163.1 1910.69h12.39v12.41h-12.39zM163.1 1923.09h12.39v12.41h-12.39zM163.1 1935.5h12.39v12.41h-12.39zM163.1 1947.91h12.39v12.41h-12.39zM163.1 1960.31h12.39v12.41h-12.39zM163.1 1972.72h12.39v12.41h-12.39zM163.1 1985.13h12.39v12.41h-12.39zM163.1 1997.53h12.39v12.41h-12.39zM163.1 2009.94h12.39v12.41h-12.39zM163.1 2022.35h12.39v12.41h-12.39zM163.1 2034.75h12.39v12.41h-12.39zM163.1 2047.16h12.39v12.41h-12.39zM163.1 2059.57h12.39v12.41h-12.39zM163.1 2071.97h12.39v12.41h-12.39zM163.1 2084.38h12.39v12.41h-12.39zM163.1 2096.79h12.39v12.41h-12.39zM163.1 2109.19h12.39v12.41h-12.39z"/>
<path fill="#fef5e5" d="M262.23 1637.74h24.78v12.41h-24.78zM287.01 1650.15h12.39v12.41h-12.39zM237.45 1662.55h61.96v12.41h-61.96zM311.79 1662.55h12.39v12.41h-12.39zM237.45 1674.96h12.39v12.41h-12.39zM262.23 1674.96h12.39v12.41h-12.39zM287.01 1674.96h24.78v12.41h-24.78zM175.49 1687.37h12.39v12.41h-12.39zM237.45 1687.37h61.96v12.41h-61.96zM249.84 1699.77h12.39v12.41h-12.39zM274.62 1699.77h24.78v12.41h-24.78zM249.84 1712.18h37.17v12.41h-37.17zM361.36 1736.99h37.17v12.41h-37.17zM361.36 1749.4h49.56v12.41h-49.56zM200.27 1761.81h12.39v12.41h-12.39zM373.75 1761.81h37.17v12.41h-37.17zM361.36 1774.21h12.39v12.41h-12.39zM472.88 1774.21h24.78v12.41h-24.78zM510.05 1774.21h12.39v12.41h-12.39zM472.88 1786.62h12.39v12.41h-12.39zM497.66 1786.62h24.78v12.41h-24.78zM361.36 1799.03h37.17v12.41h-37.17zM460.49 1799.03h24.78v12.41h-24.78zM510.05 1799.03h12.39v12.41h-12.39zM348.97 1811.43h49.56v12.41h-49.56zM460.49 1811.43h24.78v12.41h-24.78zM510.05 1811.43h24.78v12.41h-24.78zM348.97 1823.84h12.39v12.41h-12.39zM373.75 1823.84h24.78v12.41h-24.78zM460.49 1823.84h24.78v12.41h-24.78zM497.66 1823.84h12.39v12.41h-12.39zM522.44 1823.84h12.39v12.41h-12.39zM348.97 1836.25h24.78v12.41h-24.78zM386.14 1836.25h12.39v12.41h-12.39zM460.49 1836.25h12.39v12.41h-12.39zM485.27 1836.25h37.17v12.41h-37.17zM287.01 1848.65h12.39v12.41h-12.39zM262.23 1861.06h12.39v12.41h-12.39zM287.01 1861.06h24.78v12.41h-24.78zM348.97 1861.06h12.39v12.41h-12.39zM373.75 1861.06h12.39v12.41h-12.39zM410.92 1861.06h12.39v12.41h-12.39zM485.27 1861.06h12.39v12.41h-12.39zM287.01 1873.47h24.78v12.41h-24.78zM460.49 1873.47h49.56v12.41h-49.56zM584.4 1873.47h12.39v12.41h-12.39zM609.18 1873.47h12.39v12.41h-12.39zM274.62 1885.87h12.39v12.41h-12.39zM299.4 1885.87h12.39v12.41h-12.39zM324.18 1885.87h61.96v12.41h-61.96zM410.92 1885.87h12.39v12.41h-12.39zM472.88 1885.87h37.17v12.41h-37.17zM584.4 1885.87h12.39v12.41h-12.39zM262.23 1898.28h12.39v12.41h-12.39zM287.01 1898.28h12.39v12.41h-12.39zM324.18 1898.28h12.39v12.41h-12.39zM373.75 1898.28h24.78v12.41h-24.78zM435.7 1898.28h61.96v12.41h-61.96zM609.18 1898.28h12.39v12.41h-12.39zM633.96 1898.28h12.39v12.41h-12.39zM262.23 1910.69h12.39v12.41h-12.39zM287.01 1910.69h12.39v12.41h-12.39zM311.79 1910.69h12.39v12.41h-12.39zM348.97 1910.69h49.56v12.41h-49.56zM448.1 1910.69h12.39v12.41h-12.39zM472.88 1910.69h24.78v12.41h-24.78zM596.79 1910.69h24.78v12.41h-24.78zM299.4 1923.09h12.39v12.41h-12.39zM361.36 1923.09h12.39v12.41h-12.39zM398.53 1923.09h12.39v12.41h-12.39zM423.31 1923.09h86.74v12.41h-86.74zM609.18 1923.09h12.39v12.41h-12.39zM274.62 1935.5h24.78v12.41h-24.78zM361.36 1935.5h12.39v12.41h-12.39zM386.14 1935.5h12.39v12.41h-12.39zM410.92 1935.5h12.39v12.41h-12.39zM435.7 1935.5h12.39v12.41h-12.39zM485.27 1935.5h12.39v12.41h-12.39zM671.14 1935.5h24.78v12.41h-24.78zM287.01 1947.91h12.39v12.41h-12.39zM423.31 1947.91h24.78v12.41h-24.78zM683.53 1947.91h12.39v12.41h-12.39zM386.14 1960.31h24.78v12.41h-24.78zM423.31 1960.31h12.39v12.41h-12.39zM658.74 1960.31h12.39v12.41h-12.39zM683.53 1960.31h12.39v12.41h-12.39zM410.92 1972.72h24.78v12.41h-24.78zM497.66 1972.72h12.39v12.41h-12.39zM398.53 1985.13h24.78v12.41h-24.78zM472.88 1985.13h37.17v12.41h-37.17zM671.14 1985.13h12.39v12.41h-12.39zM485.27 1997.53h12.39v12.41h-12.39zM671.14 1997.53h12.39v12.41h-12.39zM423.31 2009.94h12.39v12.41h-12.39zM460.49 2009.94h12.39v12.41h-12.39zM683.53 2084.38h12.39v12.41h-12.39z"/>
<path fill="#e3eef9" d="M187.88 1712.18h12.39v12.41h-12.39zM175.49 1724.59h24.78v12.41h-24.78zM200.27 1736.99h12.39v12.41h-12.39zM237.45 1736.99h12.39v12.41h-12.39zM175.49 1749.4h12.39v12.41h-12.39zM212.66 1749.4h12.39v12.41h-12.39zM212.66 1761.81h12.39v12.41h-12.39zM200.27 1774.21h24.78v12.41h-24.78zM237.45 1774.21h12.39v12.41h-12.39zM187.88 1786.62h12.39v12.41h-12.39zM212.66 1786.62h37.17v12.41h-37.17zM200.27 1799.03h24.78v12.41h-24.78zM237.45 1799.03h12.39v12.41h-12.39zM187.88 1811.43h12.39v12.41h-12.39zM212.66 1811.43h24.78v12.41h-24.78zM249.84 1811.43h12.39v12.41h-12.39zM200.27 1823.84h24.78v12.41h-24.78zM175.49 1836.25h12.39v12.41h-12.39zM212.66 1836.25h12.39v12.41h-12.39zM200.27 1848.65h12.39v12.41h-12.39zM175.49 1861.06h24.78v12.41h-24.78zM237.45 1861.06h12.39v12.41h-12.39zM175.49 1873.47h12.39v12.41h-12.39zM324.18 1873.47h12.39v12.41h-12.39zM373.75 1873.47h12.39v12.41h-12.39zM410.92 1873.47h12.39v12.41h-12.39zM175.49 1885.87h24.78v12.41h-24.78zM262.23 1885.87h12.39v12.41h-12.39zM386.14 1885.87h12.39v12.41h-12.39zM175.49 1898.28h12.39v12.41h-12.39zM336.58 1910.69h12.39v12.41h-12.39zM311.79 1923.09h12.39v12.41h-12.39zM386.14 1923.09h12.39v12.41h-12.39zM324.18 1935.5h12.39v12.41h-12.39zM299.4 1947.91h12.39v12.41h-12.39zM410.92 1947.91h12.39v12.41h-12.39zM348.97 1960.31h12.39v12.41h-12.39zM336.58 1972.72h12.39v12.41h-12.39zM398.53 1972.72h12.39v12.41h-12.39zM361.36 1985.13h12.39v12.41h-12.39zM386.14 1985.13h12.39v12.41h-12.39zM386.14 1997.53h12.39v12.41h-12.39zM683.53 2059.57h12.39v12.41h-12.39z"/>
<path fill="#d0ecec" d="M187.88 1736.99h12.39v12.41h-12.39zM187.88 1823.84h12.39v12.41h-12.39zM187.88 1836.25h12.39v12.41h-12.39zM187.88 1848.65h12.39v12.41h-12.39zM187.88 1873.47h12.39v12.41h-12.39zM361.36 1898.28h12.39v12.41h-12.39z"/>
<path fill="#add8e6" d="M187.88 1774.21h12.39v12.41h-12.39zM187.88 1799.03h12.39v12.41h-12.39z"/>
<path fill="#ffe4b5" d="M386.14 1786.62h12.39v12.41h-12.39zM485.27 1786.62h12.39v12.41h-12.39zM485.27 1799.03h24.78v12.41h-24.78zM485.27 1811.43h24.78v12.41h-24.78zM361.36 1823.84h12.39v12.41h-12.39zM485.27 1823.84h12.39v12.41h-12.39zM510.05 1823.84h12.39v12.41h-12.39zM386.14 1873.47h12.39v12.41h-12.39zM311.79 1885.87h12.39v12.41h-12.39zM311.79 1898.28h12.39v12.41h-12.39zM324.18 1923.09h37.17v12.41h-37.17zM373.75 1923.09h12.39v12.41h-12.39zM348.97 1935.5h12.39v12.41h-12.39zM324.18 1947.91h12.39v12.41h-12.39zM361.36 1947.91h12.39v12.41h-12.39zM386.14 1947.91h12.39v12.41h-12.39zM324.18 1960.31h12.39v12.41h-12.39zM361.36 1960.31h12.39v12.41h-12.39zM361.36 1972.72h12.39v12.41h-12.39z"/>
<path fill="#f4a460" d="M311.79 1873.47h12.39v12.41h-12.39zM274.62 1898.28h12.39v12.41h-12.39zM287.01 1923.09h12.39v12.41h-12.39zM373.75 1935.5h12.39v12.41h-12.39zM398.53 1935.5h12.39v12.41h-12.39zM410.92 1960.31h12.39v12.41h-12.39z"/>
<path fill="#ee7600" d="M287.01 1885.87h12.39v12.41h-12.39z"/>
<path fill="none" shape-rendering="crispEdges" stroke="#000" stroke-opacity="0.62" stroke-width="1" d="M175.49 1563.3v558.3M163.1 1575.71h557.6M187.88 1563.3v558.3M163.1 1588.11h557.6M200.27 1563.3v558.3M163.1 1600.52h557.6M212.66 1563.3v558.3M163.1 1612.93h557.6M225.06 1563.3v558.3M163.1 1625.33h557.6M237.45 1563.3v558.3M163.1 1637.74h557.6M249.84 1563.3v558.3M163.1 1650.15h557.6M262.23 1563.3v558.3M163.1 1662.55h557.6M274.62 1563.3v558.3M163.1 1674.96h557.6M287.01 1563.3v558.3M163.1 1687.37h557.6M299.4 1563.3v558.3M163.1 1699.77h557.6M311.79 1563.3v558.3M163.1 1712.18h557.6M324.18 1563.3v558.3M163.1 1724.59h557.6M336.58 1563.3v558.3M163.1 1736.99h557.6M348.97 1563.3v558.3M163.1 1749.4h557.6M361.36 1563.3v558.3M163.1 1761.81h557.6M373.75 1563.3v558.3M163.1 1774.21h557.6M386.14 1563.3v558.3M163.1 1786.62h557.6M398.53 1563.3v558.3M163.1 1799.03h557.6M410.92 1563.3v558.3M163.1 1811.43h557.6M423.31 1563.3v558.3M163.1 1823.84h557.6M435.7 1563.3v558.3M163.1 1836.25h557.6M448.1 1563.3v558.3M163.1 1848.65h557.6M460.49 1563.3v558.3M163.1 1861.06h557.6M472.88 1563.3v558.3M163.1 1873.47h557.6M485.27 1563.3v558.3M163.1 1885.87h557.6M497.66 1563.3v558.3M163.1 1898.28h557.6M510.05 1563.3v558.3M163.1 1910.69h557.6M522.44 1563.3v558.3M163.1 1923.09h557.6M534.83 1563.3v558.3M163.1 1935.5h557.6M547.22 1563.3v558.3M163.1 1947.91h557.6M559.62 1563.3v558.3M163.1 1960.31h557.6M572.01 1563.3v558.3M163.1 1972.72h557.6M584.4 1563.3v558.3M163.1 1985.13h557.6M596.79 1563.3v558.3M163.1 1997.53h557.6M609.18 1563.3v558.3M163.1 2009.94h557.6M621.57 1563.3v558.3M163.1 2022.35h557.6M633.96 1563.3v558.3M163.1 2034.75h557.6M646.35 1563.3v558.3M163.1 2047.16h557.6M658.74 1563.3v558.3M163.1 2059.57h557.6M671.14 1563.3v558.3M163.1 2071.97h557.6M683.53 1563.3v558.3M163.1 2084.38h557.6M695.92 1563.3v558.3M163.1 2096.79h557.6M708.31 1563.3v558.3M163.1 2109.19h557.6"/>
<path fill="none" stroke="#000" stroke-width="2.3" stroke-linecap="round" d="M163.1 1563.3h557.6v558.3h-557.6zM163.1 2121.6h-14.3M163.1 2121.6v14.3M163.1 1935.5h-14.3M348.97 2121.6v14.3M163.1 1749.4h-14.3M534.83 2121.6v14.3M163.1 1563.3h-14.3M720.7 2121.6v14.3"/>
<circle cx="438.83" cy="1594.56" r="7" fill="none" stroke="#000" stroke-width="2.3"/>
<circle cx="585.2" cy="1721.41" r="7" fill="none" stroke="#000" stroke-width="2.3"/>
<circle cx="311.81" cy="1741.57" r="7" fill="none" stroke="#000" stroke-width="2.3"/>
<circle cx="554.7" cy="1805.83" r="7" fill="none" stroke="#000" stroke-width="2.3"/>
<circle cx="436.1" cy="1881.36" r="7" fill="none" stroke="#000" stroke-width="2.3"/>
<circle cx="532.18" cy="2042.94" r="7" fill="none" stroke="#000" stroke-width="2.3"/>
<text class="tk" transform="translate(120.3 2128.6) scale(1.15 1)" text-anchor="end">0.</text>
<text class="tk" transform="translate(191.1 2163.65) scale(1.15 1)" text-anchor="end">0.</text>
<text class="tk" transform="translate(120.3 1942.5) scale(1.15 1)" text-anchor="end">30.</text>
<text class="tk" transform="translate(376.97 2163.65) scale(1.15 1)" text-anchor="end">30.</text>
<text class="tk" transform="translate(120.3 1756.4) scale(1.15 1)" text-anchor="end">60.</text>
<text class="tk" transform="translate(562.83 2163.65) scale(1.15 1)" text-anchor="end">60.</text>
<text class="tk" transform="translate(120.3 1570.3) scale(1.15 1)" text-anchor="end">90.</text>
<text class="tk" transform="translate(748.7 2163.65) scale(1.15 1)" text-anchor="end">90.</text>
<text class="ti" style="letter-spacing:3.35px" x="279" y="1533.1">450−550 m</text>
<text class="ax" transform="translate(33.8 1850.45) rotate(-90)" text-anchor="middle">Distance north (km)</text>
<text class="ax" style="letter-spacing:1.3px" x="441.9" y="2197.8" text-anchor="middle">Distance east (km)</text>
<rect x="163.1" y="2242.2" width="37.47" height="18.8" fill="#cb0000"/>
<rect x="200.27" y="2242.2" width="37.47" height="18.8" fill="#ea0000"/>
<rect x="237.45" y="2242.2" width="37.47" height="18.8" fill="#e0330f"/>
<rect x="274.62" y="2242.2" width="37.47" height="18.8" fill="#ee7600"/>
<rect x="311.79" y="2242.2" width="37.47" height="18.8" fill="#f4a460"/>
<rect x="348.97" y="2242.2" width="37.47" height="18.8" fill="#ffe4b5"/>
<rect x="386.14" y="2242.2" width="37.47" height="18.8" fill="#fef5e5"/>
<rect x="423.31" y="2242.2" width="37.47" height="18.8" fill="#f0ffff"/>
<rect x="460.49" y="2242.2" width="37.47" height="18.8" fill="#e3eef9"/>
<rect x="497.66" y="2242.2" width="37.47" height="18.8" fill="#d0ecec"/>
<rect x="534.83" y="2242.2" width="37.47" height="18.8" fill="#add8e6"/>
<rect x="572.01" y="2242.2" width="37.47" height="18.8" fill="#5cacee"/>
<rect x="609.18" y="2242.2" width="37.47" height="18.8" fill="#1874cd"/>
<rect x="646.35" y="2242.2" width="37.47" height="18.8" fill="#104e8b"/>
<rect x="683.53" y="2242.2" width="37.17" height="18.8" fill="#191970"/>
<text class="tk" style="letter-spacing:-1.2px" transform="translate(125 2293.4) scale(1.15 1)">−1500.</text>
<text class="cb" x="424.6" y="2293.9" text-anchor="middle">Volume Change (Acre−Feet)</text>
<text class="tk" style="letter-spacing:-1.2px" transform="translate(755.2 2293.4) scale(1.15 1)" text-anchor="end">1500.</text>
</g>
<g id="p6">
<rect x="857.75" y="1564.2" width="557.3" height="557.8" fill="#f0ffff"/>
<path fill="#ffffff" d="M857.75 1564.2h12.38v12.4h-12.38zM857.75 1576.6h12.38v12.4h-12.38zM857.75 1588.99h12.38v12.4h-12.38zM857.75 1601.39h12.38v12.4h-12.38zM857.75 1613.78h12.38v12.4h-12.38zM857.75 1626.18h12.38v12.4h-12.38zM857.75 1638.57h12.38v12.4h-12.38zM857.75 1650.97h12.38v12.4h-12.38zM857.75 1663.36h12.38v12.4h-12.38zM857.75 1675.76h12.38v12.4h-12.38zM857.75 1688.16h12.38v12.4h-12.38zM857.75 1700.55h12.38v12.4h-12.38zM857.75 1712.95h12.38v12.4h-12.38zM857.75 1725.34h12.38v12.4h-12.38zM857.75 1737.74h12.38v12.4h-12.38zM857.75 1750.13h12.38v12.4h-12.38zM857.75 1762.53h12.38v12.4h-12.38zM857.75 1774.92h12.38v12.4h-12.38zM857.75 1787.32h12.38v12.4h-12.38zM857.75 1799.72h12.38v12.4h-12.38zM857.75 1812.11h12.38v12.4h-12.38zM857.75 1824.51h12.38v12.4h-12.38zM857.75 1836.9h12.38v12.4h-12.38zM857.75 1849.3h12.38v12.4h-12.38zM857.75 1861.69h12.38v12.4h-12.38zM857.75 1874.09h12.38v12.4h-12.38zM857.75 1886.48h12.38v12.4h-12.38zM857.75 1898.88h12.38v12.4h-12.38zM857.75 1911.28h12.38v12.4h-12.38zM857.75 1923.67h12.38v12.4h-12.38zM857.75 1936.07h12.38v12.4h-12.38zM857.75 1948.46h12.38v12.4h-12.38zM857.75 1960.86h12.38v12.4h-12.38zM857.75 1973.25h12.38v12.4h-12.38zM857.75 1985.65h12.38v12.4h-12.38zM857.75 1998.04h12.38v12.4h-12.38zM857.75 2010.44h12.38v12.4h-12.38zM857.75 2022.84h12.38v12.4h-12.38zM857.75 2035.23h12.38v12.4h-12.38zM857.75 2047.63h12.38v12.4h-12.38zM857.75 2060.02h12.38v12.4h-12.38zM857.75 2072.42h12.38v12.4h-12.38zM857.75 2084.81h12.38v12.4h-12.38zM857.75 2097.21h12.38v12.4h-12.38zM857.75 2109.6h12.38v12.4h-12.38z"/>
<path fill="#fef5e5" d="M932.06 1663.36h37.15v12.4h-37.15zM932.06 1675.76h12.38v12.4h-12.38zM956.83 1675.76h12.38v12.4h-12.38zM932.06 1688.16h61.92v12.4h-61.92zM944.44 1700.55h49.54v12.4h-49.54zM944.44 1712.95h37.15v12.4h-37.15zM870.13 1787.32h12.38v12.4h-12.38zM870.13 1799.72h12.38v12.4h-12.38zM1080.67 1824.51h12.38v12.4h-12.38zM1080.67 1836.9h12.38v12.4h-12.38zM981.59 1849.3h12.38v12.4h-12.38zM981.59 1861.69h24.77v12.4h-24.77zM1068.29 1861.69h12.38v12.4h-12.38zM1179.75 1861.69h12.38v12.4h-12.38zM1006.36 1874.09h12.38v12.4h-12.38zM1080.67 1874.09h12.38v12.4h-12.38zM1154.98 1874.09h37.15v12.4h-37.15zM1278.82 1874.09h12.38v12.4h-12.38zM1303.59 1874.09h12.38v12.4h-12.38zM981.59 1886.48h12.38v12.4h-12.38zM1043.52 1886.48h37.15v12.4h-37.15zM1105.44 1886.48h12.38v12.4h-12.38zM1167.36 1886.48h37.15v12.4h-37.15zM1278.82 1886.48h12.38v12.4h-12.38zM1018.75 1898.88h12.38v12.4h-12.38zM1068.29 1898.88h24.77v12.4h-24.77zM1142.59 1898.88h49.54v12.4h-49.54zM1303.59 1898.88h12.38v12.4h-12.38zM1328.36 1898.88h12.38v12.4h-12.38zM1043.52 1911.28h61.92v12.4h-61.92zM1142.59 1911.28h12.38v12.4h-12.38zM1167.36 1911.28h24.77v12.4h-24.77zM1291.21 1911.28h24.77v12.4h-24.77zM1043.52 1923.67h24.77v12.4h-24.77zM1093.05 1923.67h12.38v12.4h-12.38zM1117.82 1923.67h12.38v12.4h-12.38zM1142.59 1923.67h61.92v12.4h-61.92zM1303.59 1923.67h12.38v12.4h-12.38zM1043.52 1936.07h24.77v12.4h-24.77zM1080.67 1936.07h12.38v12.4h-12.38zM1105.44 1936.07h12.38v12.4h-12.38zM1018.75 1948.46h12.38v12.4h-12.38zM1080.67 1948.46h24.77v12.4h-24.77zM1117.82 1948.46h12.38v12.4h-12.38zM1080.67 1960.86h24.77v12.4h-24.77zM1117.82 1960.86h12.38v12.4h-12.38zM1105.44 1973.25h24.77v12.4h-24.77zM1093.05 1985.65h24.77v12.4h-24.77z"/>
<path fill="#d0ecec" d="M882.52 1774.92h12.38v12.4h-12.38zM882.52 1787.32h12.38v12.4h-12.38zM882.52 1824.51h12.38v12.4h-12.38z"/>
<path fill="#e3eef9" d="M894.9 1774.92h24.77v12.4h-24.77zM907.29 1787.32h12.38v12.4h-12.38zM894.9 1799.72h24.77v12.4h-24.77zM882.52 1812.11h12.38v12.4h-12.38zM907.29 1812.11h24.77v12.4h-24.77zM944.44 1812.11h12.38v12.4h-12.38zM894.9 1824.51h24.77v12.4h-24.77zM870.13 1836.9h12.38v12.4h-12.38zM907.29 1836.9h12.38v12.4h-12.38zM894.9 1849.3h24.77v12.4h-24.77zM882.52 1861.69h12.38v12.4h-12.38zM882.52 1874.09h12.38v12.4h-12.38zM1080.67 1886.48h12.38v12.4h-12.38zM1055.9 1898.88h12.38v12.4h-12.38zM1031.13 1911.28h12.38v12.4h-12.38zM1006.36 1923.67h12.38v12.4h-12.38zM1080.67 1923.67h12.38v12.4h-12.38zM993.98 1948.46h12.38v12.4h-12.38zM1105.44 1948.46h12.38v12.4h-12.38zM1093.05 1973.25h12.38v12.4h-12.38zM1055.9 1985.65h12.38v12.4h-12.38zM1080.67 1998.04h12.38v12.4h-12.38z"/>
<path fill="#add8e6" d="M882.52 1799.72h12.38v12.4h-12.38zM882.52 1836.9h12.38v12.4h-12.38zM882.52 1849.3h12.38v12.4h-12.38z"/>
<path fill="#ffe4b5" d="M1018.75 1923.67h24.77v12.4h-24.77zM1068.29 1923.67h12.38v12.4h-12.38zM1093.05 1936.07h12.38v12.4h-12.38zM1055.9 1948.46h12.38v12.4h-12.38zM1055.9 1960.86h12.38v12.4h-12.38zM1055.9 1973.25h12.38v12.4h-12.38z"/>
<path fill="#f4a460" d="M1068.29 1936.07h12.38v12.4h-12.38zM1105.44 1960.86h12.38v12.4h-12.38z"/>
<path fill="none" shape-rendering="crispEdges" stroke="#000" stroke-opacity="0.62" stroke-width="1" d="M870.13 1564.2v557.8M857.75 1576.6h557.3M882.52 1564.2v557.8M857.75 1588.99h557.3M894.9 1564.2v557.8M857.75 1601.39h557.3M907.29 1564.2v557.8M857.75 1613.78h557.3M919.67 1564.2v557.8M857.75 1626.18h557.3M932.06 1564.2v557.8M857.75 1638.57h557.3M944.44 1564.2v557.8M857.75 1650.97h557.3M956.83 1564.2v557.8M857.75 1663.36h557.3M969.21 1564.2v557.8M857.75 1675.76h557.3M981.59 1564.2v557.8M857.75 1688.16h557.3M993.98 1564.2v557.8M857.75 1700.55h557.3M1006.36 1564.2v557.8M857.75 1712.95h557.3M1018.75 1564.2v557.8M857.75 1725.34h557.3M1031.13 1564.2v557.8M857.75 1737.74h557.3M1043.52 1564.2v557.8M857.75 1750.13h557.3M1055.9 1564.2v557.8M857.75 1762.53h557.3M1068.29 1564.2v557.8M857.75 1774.92h557.3M1080.67 1564.2v557.8M857.75 1787.32h557.3M1093.05 1564.2v557.8M857.75 1799.72h557.3M1105.44 1564.2v557.8M857.75 1812.11h557.3M1117.82 1564.2v557.8M857.75 1824.51h557.3M1130.21 1564.2v557.8M857.75 1836.9h557.3M1142.59 1564.2v557.8M857.75 1849.3h557.3M1154.98 1564.2v557.8M857.75 1861.69h557.3M1167.36 1564.2v557.8M857.75 1874.09h557.3M1179.75 1564.2v557.8M857.75 1886.48h557.3M1192.13 1564.2v557.8M857.75 1898.88h557.3M1204.51 1564.2v557.8M857.75 1911.28h557.3M1216.9 1564.2v557.8M857.75 1923.67h557.3M1229.28 1564.2v557.8M857.75 1936.07h557.3M1241.67 1564.2v557.8M857.75 1948.46h557.3M1254.05 1564.2v557.8M857.75 1960.86h557.3M1266.44 1564.2v557.8M857.75 1973.25h557.3M1278.82 1564.2v557.8M857.75 1985.65h557.3M1291.21 1564.2v557.8M857.75 1998.04h557.3M1303.59 1564.2v557.8M857.75 2010.44h557.3M1315.97 1564.2v557.8M857.75 2022.84h557.3M1328.36 1564.2v557.8M857.75 2035.23h557.3M1340.74 1564.2v557.8M857.75 2047.63h557.3M1353.13 1564.2v557.8M857.75 2060.02h557.3M1365.51 1564.2v557.8M857.75 2072.42h557.3M1377.9 1564.2v557.8M857.75 2084.81h557.3M1390.28 1564.2v557.8M857.75 2097.21h557.3M1402.67 1564.2v557.8M857.75 2109.6h557.3"/>
<path fill="none" stroke="#000" stroke-width="2.3" stroke-linecap="round" d="M857.75 1564.2h557.3v557.8h-557.3zM857.75 2122h-14.3M857.75 2122v14.3M857.75 1936.07h-14.3M1043.52 2122v14.3M857.75 1750.13h-14.3M1229.28 2122v14.3M857.75 1564.2h-14.3M1415.05 2122v14.3"/>
<circle cx="1133.33" cy="1595.44" r="7" fill="none" stroke="#000" stroke-width="2.3"/>
<circle cx="1279.63" cy="1722.17" r="7" fill="none" stroke="#000" stroke-width="2.3"/>
<circle cx="1006.38" cy="1742.31" r="7" fill="none" stroke="#000" stroke-width="2.3"/>
<circle cx="1249.14" cy="1806.51" r="7" fill="none" stroke="#000" stroke-width="2.3"/>
<circle cx="1130.6" cy="1881.98" r="7" fill="none" stroke="#000" stroke-width="2.3"/>
<circle cx="1226.63" cy="2043.41" r="7" fill="none" stroke="#000" stroke-width="2.3"/>
<text class="tk" transform="translate(814.95 2129) scale(1.15 1)" text-anchor="end">0.</text>
<text class="tk" transform="translate(885.75 2164.01) scale(1.15 1)" text-anchor="end">0.</text>
<text class="tk" transform="translate(814.95 1943.07) scale(1.15 1)" text-anchor="end">30.</text>
<text class="tk" transform="translate(1071.52 2164.01) scale(1.15 1)" text-anchor="end">30.</text>
<text class="tk" transform="translate(814.95 1757.13) scale(1.15 1)" text-anchor="end">60.</text>
<text class="tk" transform="translate(1257.28 2164.01) scale(1.15 1)" text-anchor="end">60.</text>
<text class="tk" transform="translate(814.95 1571.2) scale(1.15 1)" text-anchor="end">90.</text>
<text class="tk" transform="translate(1443.05 2164.01) scale(1.15 1)" text-anchor="end">90.</text>
<text class="ti" style="letter-spacing:3.72px" x="971.5" y="1534">550−650 m</text>
<text class="ax" style="letter-spacing:1.3px" x="1136.4" y="2198.2" text-anchor="middle">Distance east (km)</text>
<rect x="857.75" y="2242.2" width="37.45" height="18.8" fill="#cb0000"/>
<rect x="894.9" y="2242.2" width="37.45" height="18.8" fill="#ea0000"/>
<rect x="932.06" y="2242.2" width="37.45" height="18.8" fill="#e0330f"/>
<rect x="969.21" y="2242.2" width="37.45" height="18.8" fill="#ee7600"/>
<rect x="1006.36" y="2242.2" width="37.45" height="18.8" fill="#f4a460"/>
<rect x="1043.52" y="2242.2" width="37.45" height="18.8" fill="#ffe4b5"/>
<rect x="1080.67" y="2242.2" width="37.45" height="18.8" fill="#fef5e5"/>
<rect x="1117.82" y="2242.2" width="37.45" height="18.8" fill="#f0ffff"/>
<rect x="1154.98" y="2242.2" width="37.45" height="18.8" fill="#e3eef9"/>
<rect x="1192.13" y="2242.2" width="37.45" height="18.8" fill="#d0ecec"/>
<rect x="1229.28" y="2242.2" width="37.45" height="18.8" fill="#add8e6"/>
<rect x="1266.44" y="2242.2" width="37.45" height="18.8" fill="#5cacee"/>
<rect x="1303.59" y="2242.2" width="37.45" height="18.8" fill="#1874cd"/>
<rect x="1340.74" y="2242.2" width="37.45" height="18.8" fill="#104e8b"/>
<rect x="1377.9" y="2242.2" width="37.15" height="18.8" fill="#191970"/>
<text class="tk" style="letter-spacing:-1.2px" transform="translate(819.65 2293.4) scale(1.15 1)">−1500.</text>
<text class="cb" x="1119.25" y="2293.9" text-anchor="middle">Volume Change (Acre−Feet)</text>
<text class="tk" style="letter-spacing:-1.2px" transform="translate(1448.15 2293.4) scale(1.15 1)" text-anchor="end">1500.</text>
</g>
</svg>
</body></html>
